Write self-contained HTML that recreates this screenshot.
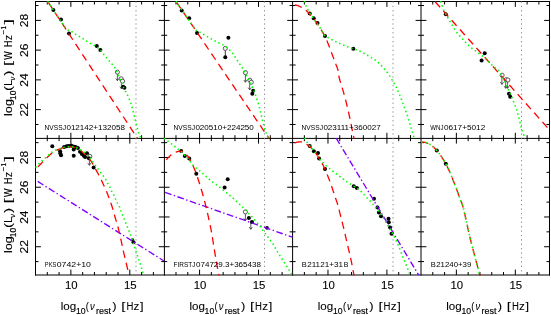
<!DOCTYPE html>
<html><head><meta charset="utf-8"><title>SED fits</title>
<style>
html,body{margin:0;padding:0;background:#fff;}
body{width:551px;height:315px;overflow:hidden;}
svg{display:block;will-change:transform;font-family:"Liberation Sans",sans-serif;}
</style></head><body>
<svg width="551" height="315" viewBox="0 0 551 315">
<rect x="0" y="0" width="551" height="315" fill="#ffffff"/>
<defs>
<clipPath id="c00"><rect x="34.9" y="0.8" width="129.9" height="138.1"/></clipPath>
<clipPath id="c01"><rect x="163.6" y="0.8" width="129.6" height="138.1"/></clipPath>
<clipPath id="c02"><rect x="292" y="0.8" width="129.6" height="138.1"/></clipPath>
<clipPath id="c03"><rect x="420.4" y="0.8" width="129.7" height="138.1"/></clipPath>
<clipPath id="c10"><rect x="34.9" y="137.5" width="129.9" height="138.2"/></clipPath>
<clipPath id="c11"><rect x="163.6" y="137.5" width="129.6" height="138.2"/></clipPath>
<clipPath id="c12"><rect x="292" y="137.5" width="129.6" height="138.2"/></clipPath>
<clipPath id="c13"><rect x="420.4" y="137.5" width="129.7" height="138.2"/></clipPath>
</defs>
<g stroke="#000" stroke-width="1" fill="none" stroke-linecap="butt">
<line x1="35.5" y1="1" x2="35.5" y2="275.5"/>
<line x1="164.4" y1="1" x2="164.4" y2="275.5"/>
<line x1="292.6" y1="1" x2="292.6" y2="275.5"/>
<line x1="421" y1="1" x2="421" y2="275.5"/>
<line x1="549.5" y1="1" x2="549.5" y2="275.5"/>
<line x1="35" y1="1.5" x2="550" y2="1.5"/>
<line x1="35" y1="138.4" x2="550" y2="138.4"/>
<line x1="35" y1="275" x2="550" y2="275"/>
<path d="M47.29 1.5 v3 M47.29 135.2 v6 M47.29 275 v-3 M59.08 1.5 v3 M59.08 135.2 v6 M59.08 275 v-3 M70.87 1.5 v5.4 M70.87 132.8 v10.8 M70.87 275 v-5.4 M82.66 1.5 v3 M82.66 135.2 v6 M82.66 275 v-3 M94.45 1.5 v3 M94.45 135.2 v6 M94.45 275 v-3 M106.24 1.5 v3 M106.24 135.2 v6 M106.24 275 v-3 M118.03 1.5 v3 M118.03 135.2 v6 M118.03 275 v-3 M129.82 1.5 v5.4 M129.82 132.8 v10.8 M129.82 275 v-5.4 M141.61 1.5 v3 M141.61 135.2 v6 M141.61 275 v-3 M153.4 1.5 v3 M153.4 135.2 v6 M153.4 275 v-3 M175.99 1.5 v3 M175.99 135.2 v6 M175.99 275 v-3 M187.78 1.5 v3 M187.78 135.2 v6 M187.78 275 v-3 M199.57 1.5 v5.4 M199.57 132.8 v10.8 M199.57 275 v-5.4 M211.36 1.5 v3 M211.36 135.2 v6 M211.36 275 v-3 M223.15 1.5 v3 M223.15 135.2 v6 M223.15 275 v-3 M234.94 1.5 v3 M234.94 135.2 v6 M234.94 275 v-3 M246.73 1.5 v3 M246.73 135.2 v6 M246.73 275 v-3 M258.52 1.5 v5.4 M258.52 132.8 v10.8 M258.52 275 v-5.4 M270.31 1.5 v3 M270.31 135.2 v6 M270.31 275 v-3 M282.1 1.5 v3 M282.1 135.2 v6 M282.1 275 v-3 M304.39 1.5 v3 M304.39 135.2 v6 M304.39 275 v-3 M316.18 1.5 v3 M316.18 135.2 v6 M316.18 275 v-3 M327.97 1.5 v5.4 M327.97 132.8 v10.8 M327.97 275 v-5.4 M339.76 1.5 v3 M339.76 135.2 v6 M339.76 275 v-3 M351.55 1.5 v3 M351.55 135.2 v6 M351.55 275 v-3 M363.34 1.5 v3 M363.34 135.2 v6 M363.34 275 v-3 M375.13 1.5 v3 M375.13 135.2 v6 M375.13 275 v-3 M386.92 1.5 v5.4 M386.92 132.8 v10.8 M386.92 275 v-5.4 M398.71 1.5 v3 M398.71 135.2 v6 M398.71 275 v-3 M410.5 1.5 v3 M410.5 135.2 v6 M410.5 275 v-3 M432.79 1.5 v3 M432.79 135.2 v6 M432.79 275 v-3 M444.58 1.5 v3 M444.58 135.2 v6 M444.58 275 v-3 M456.37 1.5 v5.4 M456.37 132.8 v10.8 M456.37 275 v-5.4 M468.16 1.5 v3 M468.16 135.2 v6 M468.16 275 v-3 M479.95 1.5 v3 M479.95 135.2 v6 M479.95 275 v-3 M491.74 1.5 v3 M491.74 135.2 v6 M491.74 275 v-3 M503.53 1.5 v3 M503.53 135.2 v6 M503.53 275 v-3 M515.32 1.5 v5.4 M515.32 132.8 v10.8 M515.32 275 v-5.4 M527.11 1.5 v3 M527.11 135.2 v6 M527.11 275 v-3 M538.9 1.5 v3 M538.9 135.2 v6 M538.9 275 v-3 M35.5 124.49 h3 M161.2 124.49 h6 M289.6 124.49 h6 M418 124.49 h6 M549.5 124.49 h-3 M35.5 109.62 h5.4 M158.8 109.62 h10.8 M287.2 109.62 h10.8 M415.6 109.62 h10.8 M549.5 109.62 h-5.4 M35.5 94.75 h3 M161.2 94.75 h6 M289.6 94.75 h6 M418 94.75 h6 M549.5 94.75 h-3 M35.5 79.88 h5.4 M158.8 79.88 h10.8 M287.2 79.88 h10.8 M415.6 79.88 h10.8 M549.5 79.88 h-5.4 M35.5 65.01 h3 M161.2 65.01 h6 M289.6 65.01 h6 M418 65.01 h6 M549.5 65.01 h-3 M35.5 50.14 h5.4 M158.8 50.14 h10.8 M287.2 50.14 h10.8 M415.6 50.14 h10.8 M549.5 50.14 h-5.4 M35.5 35.27 h3 M161.2 35.27 h6 M289.6 35.27 h6 M418 35.27 h6 M549.5 35.27 h-3 M35.5 20.4 h5.4 M158.8 20.4 h10.8 M287.2 20.4 h10.8 M415.6 20.4 h10.8 M549.5 20.4 h-5.4 M35.5 5.53 h3 M161.2 5.53 h6 M289.6 5.53 h6 M418 5.53 h6 M549.5 5.53 h-3 M35.5 261.59 h3 M161.2 261.59 h6 M289.6 261.59 h6 M418 261.59 h6 M549.5 261.59 h-3 M35.5 246.72 h5.4 M158.8 246.72 h10.8 M287.2 246.72 h10.8 M415.6 246.72 h10.8 M549.5 246.72 h-5.4 M35.5 231.85 h3 M161.2 231.85 h6 M289.6 231.85 h6 M418 231.85 h6 M549.5 231.85 h-3 M35.5 216.98 h5.4 M158.8 216.98 h10.8 M287.2 216.98 h10.8 M415.6 216.98 h10.8 M549.5 216.98 h-5.4 M35.5 202.11 h3 M161.2 202.11 h6 M289.6 202.11 h6 M418 202.11 h6 M549.5 202.11 h-3 M35.5 187.24 h5.4 M158.8 187.24 h10.8 M287.2 187.24 h10.8 M415.6 187.24 h10.8 M549.5 187.24 h-5.4 M35.5 172.37 h3 M161.2 172.37 h6 M289.6 172.37 h6 M418 172.37 h6 M549.5 172.37 h-3 M35.5 157.5 h5.4 M158.8 157.5 h10.8 M287.2 157.5 h10.8 M415.6 157.5 h10.8 M549.5 157.5 h-5.4 M35.5 142.63 h3 M161.2 142.63 h6 M289.6 142.63 h6 M418 142.63 h6 M549.5 142.63 h-3"/>
</g>
<line x1="136" y1="1.5" x2="136" y2="138.2" stroke="#8c8c8c" stroke-width="1" stroke-dasharray="1.3 3.1" stroke-dashoffset="0.15"/>
<line x1="264.5" y1="1.5" x2="264.5" y2="138.2" stroke="#8c8c8c" stroke-width="1" stroke-dasharray="1.3 3.1" stroke-dashoffset="0.15"/>
<line x1="393" y1="1.5" x2="393" y2="138.2" stroke="#8c8c8c" stroke-width="1" stroke-dasharray="1.3 3.1" stroke-dashoffset="0.15"/>
<line x1="521.5" y1="1.5" x2="521.5" y2="138.2" stroke="#8c8c8c" stroke-width="1" stroke-dasharray="1.3 3.1" stroke-dashoffset="0.15"/>
<line x1="136" y1="138.2" x2="136" y2="275" stroke="#8c8c8c" stroke-width="1" stroke-dasharray="1.3 3.1" stroke-dashoffset="0.15"/>
<line x1="264.5" y1="138.2" x2="264.5" y2="275" stroke="#8c8c8c" stroke-width="1" stroke-dasharray="1.3 3.1" stroke-dashoffset="0.15"/>
<line x1="393" y1="138.2" x2="393" y2="275" stroke="#8c8c8c" stroke-width="1" stroke-dasharray="1.3 3.1" stroke-dashoffset="0.15"/>
<line x1="521.5" y1="138.2" x2="521.5" y2="275" stroke="#8c8c8c" stroke-width="1" stroke-dasharray="1.3 3.1" stroke-dashoffset="0.15"/>
<g clip-path="url(#c00)">
<path d="M117.4 72.1 V80.7 M115.8 78.5 L117.4 80.7 L119 78.5" stroke="#333" stroke-width="0.8" fill="none"/>
<path d="M121.4 81 V88.8 M119.8 86.6 L121.4 88.8 L123 86.6" stroke="#333" stroke-width="0.8" fill="none"/>
<circle cx="117.4" cy="72.1" r="2.05" fill="#fff" stroke="#333" stroke-width="0.8"/>
<circle cx="121.2" cy="78.8" r="2.05" fill="#fff" stroke="#333" stroke-width="0.8"/>
<circle cx="122.6" cy="81.2" r="2.05" fill="#fff" stroke="#333" stroke-width="0.8"/>
<circle cx="53.4" cy="9.9" r="2" fill="#000"/>
<circle cx="61" cy="19.6" r="2" fill="#000"/>
<circle cx="69" cy="33.4" r="2" fill="#000"/>
<circle cx="96.8" cy="46" r="2" fill="#000"/>
<circle cx="100.4" cy="50" r="2" fill="#000"/>
<circle cx="123.2" cy="86.7" r="2" fill="#000"/>
<circle cx="124.4" cy="87.7" r="2" fill="#000"/>
<path d="M47.6 1.3 L137.5 138.4" fill="none" stroke="#ff0000" stroke-width="1.3" stroke-dasharray="7.4 5" stroke-dashoffset="11.03"/>
<path d="M47.6 1.3 L48.49 2.62 L49.66 4.37 L51.05 6.46 L52.62 8.82 L54.31 11.36 L56.08 14 L57.85 16.64 L59.6 19.22 L61.26 21.64 L62.78 23.82 L64.11 25.68 L65.2 27.13 L66.06 28.21 L66.77 29.01 L67.35 29.57 L67.82 29.95 L68.21 30.16 L68.53 30.27 L68.81 30.29 L69.07 30.28 L69.33 30.28 L69.63 30.31 L69.97 30.43 L70.39 30.67 L70.86 30.99 L71.33 31.32 L71.82 31.65 L72.3 31.99 L72.8 32.33 L73.3 32.68 L73.8 33.02 L74.3 33.36 L74.8 33.7 L75.3 34.04 L75.79 34.36 L76.29 34.68 L76.78 34.99 L77.27 35.3 L77.76 35.59 L78.25 35.89 L78.75 36.18 L79.24 36.47 L79.73 36.75 L80.22 37.04 L80.71 37.33 L81.2 37.62 L81.7 37.92 L82.19 38.22 L82.68 38.53 L83.17 38.84 L83.66 39.16 L84.15 39.48 L84.64 39.8 L85.14 40.12 L85.63 40.44 L86.12 40.76 L86.61 41.08 L87.1 41.39 L87.59 41.7 L88.09 42 L88.58 42.29 L89.07 42.56 L89.56 42.83 L90.05 43.1 L90.54 43.36 L91.03 43.62 L91.53 43.88 L92.02 44.15 L92.51 44.42 L93 44.7 L93.49 44.99 L93.98 45.3 L94.48 45.62 L94.98 45.93 L95.49 46.26 L95.99 46.58 L96.5 46.92 L97.01 47.26 L97.51 47.61 L98 47.97 L98.49 48.35 L98.97 48.73 L99.43 49.13 L99.88 49.55 L100.31 49.98 L100.72 50.42 L101.12 50.88 L101.5 51.35 L101.87 51.83 L102.24 52.32 L102.61 52.82 L102.98 53.33 L103.37 53.85 L103.76 54.37 L104.17 54.91 L104.6 55.44 L105.05 56 L105.53 56.57 L106.02 57.16 L106.52 57.76 L107.03 58.37 L107.55 58.99 L108.07 59.6 L108.58 60.21 L109.08 60.81 L109.57 61.4 L110.05 61.97 L110.5 62.52 L110.92 63.01 L111.31 63.42 L111.68 63.76 L112.03 64.08 L112.37 64.38 L112.71 64.7 L113.06 65.07 L113.43 65.49 L113.82 66.01 L114.24 66.65 L114.7 67.42 L115.22 68.36 L115.79 69.51 L116.43 70.86 L117.12 72.38 L117.84 74.03 L118.59 75.78 L119.35 77.57 L120.11 79.38 L120.85 81.16 L121.58 82.87 L122.26 84.48 L122.9 85.95 L123.48 87.23 L124 88.35 L124.48 89.35 L124.93 90.26 L125.35 91.08 L125.75 91.84 L126.13 92.54 L126.49 93.22 L126.84 93.88 L127.18 94.53 L127.52 95.21 L127.85 95.92 L128.19 96.67 L128.53 97.46 L128.87 98.24 L129.19 99.03 L129.5 99.82 L129.81 100.6 L130.11 101.39 L130.4 102.18 L130.68 102.96 L130.96 103.75 L131.23 104.54 L131.48 105.32 L131.73 106.11 L131.97 106.9 L132.19 107.68 L132.41 108.47 L132.61 109.25 L132.8 110.04 L132.99 110.83 L133.17 111.61 L133.35 112.4 L133.53 113.19 L133.71 113.97 L133.9 114.76 L134.09 115.55 L134.29 116.34 L134.49 117.13 L134.68 117.93 L134.88 118.74 L135.08 119.54 L135.27 120.34 L135.47 121.14 L135.67 121.93 L135.86 122.71 L136.06 123.48 L136.26 124.24 L136.45 124.98 L136.65 125.72 L136.85 126.46 L137.05 127.2 L137.25 127.93 L137.45 128.65 L137.65 129.36 L137.84 130.06 L138.04 130.74 L138.24 131.4 L138.43 132.04 L138.62 132.66 L138.81 133.24 L139 133.81 L139.2 134.37 L139.41 134.92 L139.62 135.46 L139.82 135.98 L140.02 136.47 L140.21 136.93 L140.39 137.37 L140.56 137.76 L140.71 138.11 L140.83 138.41 L140.93 138.67" fill="none" stroke="#00ff00" stroke-width="1.6" stroke-dasharray="1.5 2.85" stroke-dashoffset="0"/>
</g>
<text transform="translate(44.55 129.9) scale(0.857 1)" font-size="7.8" fill="#000" stroke="#000" stroke-width="0">NVSSJ</text>
<text transform="translate(66.38 129.9) scale(1.038 1)" font-size="7.8" fill="#000" stroke="#000" stroke-width="0">012142+132058</text>
<g clip-path="url(#c01)">
<path d="M245.4 72.6 V82.2 M243.8 80 L245.4 82.2 L247 80" stroke="#333" stroke-width="0.8" fill="none"/>
<path d="M249.7 81.5 V89.8 M248.1 87.6 L249.7 89.8 L251.3 87.6" stroke="#333" stroke-width="0.8" fill="none"/>
<path d="M225.3 48.4 V57.3" stroke="#222" stroke-width="0.9" fill="none"/>
<circle cx="225.3" cy="48.4" r="2.05" fill="#fff" stroke="#333" stroke-width="0.8"/>
<circle cx="245.4" cy="72.6" r="2.05" fill="#fff" stroke="#333" stroke-width="0.8"/>
<circle cx="249.8" cy="80.2" r="2.05" fill="#fff" stroke="#333" stroke-width="0.8"/>
<circle cx="251.3" cy="82.2" r="2.05" fill="#fff" stroke="#333" stroke-width="0.8"/>
<circle cx="181.7" cy="10.6" r="2" fill="#000"/>
<circle cx="189.2" cy="18.2" r="2" fill="#000"/>
<circle cx="197" cy="33" r="2" fill="#000"/>
<circle cx="228.4" cy="37.8" r="2" fill="#000"/>
<circle cx="225.3" cy="57.3" r="2" fill="#000"/>
<circle cx="253.2" cy="90.8" r="2" fill="#000"/>
<circle cx="252.3" cy="93.8" r="2" fill="#000"/>
<path d="M175.9 1.3 L269 138.4" fill="none" stroke="#ff0000" stroke-width="1.3" stroke-dasharray="7.4 5" stroke-dashoffset="11.14"/>
<path d="M175.9 1.3 L176.85 2.68 L178.1 4.51 L179.6 6.7 L181.29 9.17 L183.1 11.83 L184.99 14.58 L186.9 17.35 L188.76 20.05 L190.53 22.58 L192.14 24.86 L193.54 26.8 L194.67 28.31 L195.55 29.43 L196.26 30.26 L196.81 30.85 L197.24 31.23 L197.57 31.45 L197.84 31.55 L198.05 31.57 L198.25 31.54 L198.46 31.52 L198.7 31.53 L199 31.63 L199.39 31.85 L199.84 32.15 L200.3 32.44 L200.78 32.74 L201.27 33.03 L201.76 33.33 L202.27 33.62 L202.77 33.92 L203.28 34.21 L203.79 34.51 L204.29 34.8 L204.79 35.1 L205.29 35.39 L205.78 35.69 L206.27 35.99 L206.76 36.29 L207.25 36.59 L207.75 36.89 L208.24 37.19 L208.73 37.49 L209.22 37.78 L209.71 38.08 L210.2 38.37 L210.7 38.65 L211.19 38.93 L211.68 39.2 L212.17 39.47 L212.66 39.73 L213.15 40 L213.64 40.25 L214.14 40.51 L214.63 40.76 L215.12 41.01 L215.61 41.26 L216.1 41.5 L216.59 41.75 L217.09 42 L217.58 42.24 L218.08 42.47 L218.59 42.7 L219.1 42.93 L219.6 43.16 L220.11 43.38 L220.61 43.61 L221.1 43.84 L221.59 44.08 L222.07 44.32 L222.53 44.57 L222.98 44.83 L223.42 45.09 L223.84 45.36 L224.25 45.63 L224.64 45.91 L225.03 46.19 L225.42 46.48 L225.8 46.77 L226.17 47.07 L226.55 47.38 L226.93 47.7 L227.31 48.03 L227.7 48.37 L228.1 48.71 L228.49 49.06 L228.88 49.41 L229.28 49.76 L229.67 50.13 L230.06 50.5 L230.45 50.89 L230.85 51.29 L231.24 51.71 L231.63 52.15 L232.03 52.61 L232.42 53.09 L232.81 53.59 L233.21 54.13 L233.6 54.69 L233.99 55.27 L234.39 55.87 L234.78 56.48 L235.17 57.09 L235.57 57.72 L235.96 58.34 L236.35 58.96 L236.75 59.57 L237.14 60.16 L237.54 60.76 L237.94 61.36 L238.35 61.96 L238.76 62.57 L239.17 63.18 L239.57 63.78 L239.98 64.38 L240.37 64.97 L240.76 65.56 L241.14 66.13 L241.51 66.7 L241.86 67.24 L242.19 67.77 L242.52 68.27 L242.83 68.76 L243.13 69.23 L243.42 69.7 L243.7 70.16 L243.98 70.62 L244.26 71.09 L244.54 71.56 L244.82 72.05 L245.11 72.55 L245.4 73.08 L245.69 73.62 L245.99 74.19 L246.28 74.76 L246.58 75.35 L246.87 75.94 L247.17 76.54 L247.46 77.14 L247.76 77.75 L248.05 78.36 L248.35 78.96 L248.64 79.56 L248.94 80.16 L249.24 80.75 L249.54 81.35 L249.85 81.95 L250.16 82.56 L250.47 83.16 L250.78 83.77 L251.08 84.37 L251.38 84.96 L251.67 85.55 L251.95 86.12 L252.22 86.69 L252.48 87.23 L252.71 87.76 L252.93 88.26 L253.14 88.74 L253.33 89.2 L253.52 89.66 L253.7 90.11 L253.88 90.57 L254.06 91.04 L254.24 91.52 L254.43 92.03 L254.63 92.56 L254.83 93.13 L255.06 93.73 L255.28 94.36 L255.52 95 L255.75 95.67 L255.99 96.35 L256.24 97.04 L256.48 97.75 L256.72 98.46 L256.96 99.19 L257.2 99.92 L257.44 100.65 L257.67 101.39 L257.89 102.14 L258.12 102.9 L258.34 103.68 L258.57 104.47 L258.79 105.26 L259.01 106.06 L259.23 106.87 L259.44 107.67 L259.65 108.47 L259.86 109.27 L260.06 110.05 L260.26 110.83 L260.46 111.6 L260.64 112.37 L260.83 113.14 L261.01 113.91 L261.19 114.68 L261.36 115.44 L261.53 116.19 L261.7 116.94 L261.87 117.67 L262.04 118.39 L262.21 119.1 L262.38 119.79 L262.56 120.48 L262.74 121.16 L262.92 121.83 L263.09 122.5 L263.27 123.16 L263.45 123.8 L263.62 124.43 L263.79 125.03 L263.96 125.62 L264.11 126.17 L264.26 126.7 L264.4 127.2 L264.53 127.66 L264.64 128.07 L264.75 128.46 L264.85 128.81 L264.94 129.14 L265.03 129.45 L265.11 129.75 L265.2 130.05 L265.29 130.35 L265.39 130.65 L265.49 130.97 L265.6 131.3 L265.72 131.65 L265.85 132.01 L265.98 132.37 L266.12 132.73 L266.26 133.09 L266.4 133.46 L266.54 133.82 L266.68 134.17 L266.82 134.52 L266.95 134.86 L267.08 135.18 L267.2 135.5 L267.32 135.81 L267.44 136.13 L267.56 136.45 L267.67 136.76 L267.79 137.07 L267.9 137.36 L268.01 137.64 L268.1 137.91 L268.19 138.15 L268.27 138.36 L268.34 138.55 L268.4 138.7" fill="none" stroke="#00ff00" stroke-width="1.6" stroke-dasharray="1.5 2.85" stroke-dashoffset="0"/>
</g>
<text transform="translate(173.55 129.9) scale(0.857 1)" font-size="7.8" fill="#000" stroke="#000" stroke-width="0">NVSSJ</text>
<text transform="translate(195.38 129.9) scale(1.034 1)" font-size="7.8" fill="#000" stroke="#000" stroke-width="0">020510+224250</text>
<g clip-path="url(#c02)">
<circle cx="309.7" cy="13.5" r="2" fill="#000"/>
<circle cx="313.7" cy="18.2" r="2" fill="#000"/>
<circle cx="317.5" cy="22.9" r="2" fill="#000"/>
<circle cx="325" cy="36.1" r="2" fill="#000"/>
<circle cx="353.3" cy="48.8" r="2" fill="#000"/>
<path d="M292.6 5 L292.72 5 L292.88 4.99 L293.06 4.98 L293.26 4.97 L293.48 4.96 L293.71 4.95 L293.96 4.94 L294.21 4.94 L294.46 4.94 L294.71 4.95 L294.96 4.97 L295.2 5 L295.44 5.04 L295.68 5.08 L295.92 5.13 L296.17 5.19 L296.42 5.25 L296.67 5.31 L296.93 5.38 L297.19 5.46 L297.44 5.54 L297.7 5.62 L297.95 5.71 L298.2 5.8 L298.45 5.89 L298.68 5.98 L298.92 6.07 L299.15 6.17 L299.38 6.26 L299.61 6.37 L299.85 6.48 L300.1 6.6 L300.35 6.73 L300.62 6.87 L300.9 7.03 L301.2 7.2 L301.51 7.38 L301.84 7.57 L302.18 7.76 L302.53 7.97 L302.89 8.18 L303.26 8.41 L303.63 8.65 L304.02 8.9 L304.41 9.18 L304.8 9.46 L305.2 9.77 L305.6 10.1 L306.01 10.45 L306.43 10.83 L306.87 11.23 L307.31 11.65 L307.76 12.08 L308.22 12.53 L308.67 12.99 L309.13 13.45 L309.57 13.93 L310.02 14.4 L310.45 14.87 L310.87 15.34 L311.29 15.8 L311.69 16.27 L312.09 16.74 L312.49 17.21 L312.88 17.69 L313.27 18.17 L313.66 18.66 L314.04 19.16 L314.43 19.66 L314.81 20.18 L315.2 20.7 L315.59 21.23 L315.99 21.78 L316.38 22.33 L316.77 22.89 L317.17 23.46 L317.56 24.04 L317.95 24.63 L318.35 25.22 L318.74 25.82 L319.13 26.43 L319.53 27.05 L319.92 27.68 L320.31 28.31 L320.71 28.96 L321.11 29.62 L321.52 30.29 L321.93 30.98 L322.34 31.67 L322.75 32.37 L323.15 33.07 L323.55 33.77 L323.93 34.48 L324.31 35.18 L324.68 35.88 L325.03 36.57 L325.37 37.25 L325.69 37.93 L326 38.61 L326.3 39.28 L326.59 39.95 L326.87 40.62 L327.16 41.3 L327.43 41.99 L327.71 42.68 L327.99 43.38 L328.28 44.1 L328.57 44.83 L328.86 45.57 L329.16 46.33 L329.45 47.1 L329.75 47.89 L330.04 48.68 L330.34 49.47 L330.63 50.27 L330.93 51.08 L331.22 51.88 L331.52 52.68 L331.81 53.47 L332.11 54.26 L332.41 55.06 L332.71 55.87 L333.02 56.69 L333.33 57.52 L333.64 58.34 L333.95 59.16 L334.26 59.97 L334.56 60.77 L334.85 61.54 L335.13 62.29 L335.39 63.02 L335.65 63.7 L335.89 64.35 L336.12 64.96 L336.35 65.53 L336.57 66.08 L336.77 66.61 L336.98 67.13 L337.17 67.64 L337.35 68.15 L337.53 68.66 L337.7 69.19 L337.86 69.74 L338.01 70.31 L338.14 70.89 L338.24 71.46 L338.33 72.02 L338.4 72.58 L338.46 73.15 L338.52 73.73 L338.59 74.33 L338.66 74.95 L338.75 75.6 L338.87 76.29 L339.01 77.02 L339.19 77.8 L339.4 78.63 L339.64 79.5 L339.91 80.42 L340.19 81.37 L340.49 82.35 L340.81 83.35 L341.13 84.38 L341.46 85.41 L341.79 86.46 L342.11 87.51 L342.42 88.56 L342.73 89.59 L343.02 90.63 L343.32 91.66 L343.61 92.7 L343.91 93.74 L344.2 94.8 L344.5 95.86 L344.79 96.94 L345.09 98.03 L345.38 99.13 L345.68 100.26 L345.97 101.4 L346.26 102.57 L346.56 103.78 L346.87 105.03 L347.18 106.32 L347.49 107.64 L347.8 108.97 L348.11 110.31 L348.41 111.65 L348.71 112.97 L349 114.27 L349.28 115.53 L349.55 116.74 L349.8 117.91 L350.04 119.02 L350.27 120.11 L350.49 121.17 L350.7 122.2 L350.89 123.22 L351.09 124.2 L351.27 125.17 L351.46 126.11 L351.63 127.04 L351.81 127.94 L351.99 128.83 L352.16 129.7 L352.34 130.58 L352.53 131.46 L352.71 132.35 L352.9 133.23 L353.08 134.09 L353.25 134.92 L353.42 135.71 L353.58 136.45 L353.72 137.12 L353.85 137.73 L353.96 138.24 L354.05 138.67" fill="none" stroke="#ff0000" stroke-width="1.3" stroke-dasharray="7.4 5" stroke-dashoffset="10.23"/>
<path d="M304.27 1.18 L304.38 1.46 L304.52 1.82 L304.68 2.24 L304.85 2.71 L305.05 3.22 L305.26 3.76 L305.48 4.32 L305.7 4.89 L305.93 5.47 L306.17 6.03 L306.4 6.57 L306.63 7.08 L306.85 7.56 L307.07 8.03 L307.28 8.5 L307.49 8.96 L307.71 9.42 L307.94 9.88 L308.18 10.35 L308.44 10.84 L308.71 11.34 L309.01 11.86 L309.34 12.4 L309.7 12.98 L310.09 13.59 L310.53 14.23 L311 14.9 L311.5 15.6 L312.01 16.31 L312.54 17.03 L313.08 17.76 L313.61 18.48 L314.14 19.2 L314.65 19.9 L315.13 20.58 L315.59 21.23 L316.03 21.87 L316.46 22.49 L316.88 23.1 L317.3 23.71 L317.7 24.3 L318.1 24.89 L318.49 25.47 L318.87 26.05 L319.24 26.62 L319.61 27.19 L319.96 27.75 L320.31 28.31 L320.65 28.88 L320.97 29.46 L321.27 30.04 L321.56 30.62 L321.85 31.2 L322.13 31.76 L322.41 32.32 L322.68 32.85 L322.97 33.36 L323.25 33.83 L323.55 34.28 L323.85 34.68 L324.16 35.04 L324.48 35.36 L324.8 35.65 L325.12 35.9 L325.44 36.13 L325.77 36.35 L326.1 36.54 L326.44 36.73 L326.77 36.92 L327.11 37.1 L327.45 37.29 L327.8 37.5 L328.15 37.71 L328.51 37.91 L328.87 38.11 L329.23 38.31 L329.6 38.5 L329.97 38.68 L330.34 38.87 L330.71 39.05 L331.08 39.24 L331.46 39.42 L331.83 39.61 L332.2 39.8 L332.57 39.99 L332.95 40.19 L333.33 40.39 L333.71 40.59 L334.1 40.78 L334.48 40.98 L334.86 41.18 L335.24 41.37 L335.61 41.56 L335.98 41.75 L336.35 41.93 L336.7 42.1 L337.05 42.27 L337.38 42.43 L337.71 42.59 L338.04 42.74 L338.36 42.89 L338.68 43.04 L338.99 43.18 L339.31 43.33 L339.62 43.47 L339.95 43.61 L340.27 43.76 L340.6 43.9 L340.93 44.05 L341.27 44.19 L341.61 44.33 L341.95 44.48 L342.29 44.62 L342.64 44.76 L342.98 44.9 L343.33 45.04 L343.67 45.18 L344.01 45.32 L344.36 45.46 L344.7 45.6 L345.04 45.74 L345.38 45.87 L345.72 46.01 L346.06 46.14 L346.39 46.27 L346.73 46.41 L347.07 46.54 L347.41 46.67 L347.75 46.8 L348.1 46.93 L348.45 47.07 L348.8 47.2 L349.16 47.33 L349.52 47.47 L349.9 47.61 L350.27 47.75 L350.65 47.89 L351.02 48.02 L351.4 48.16 L351.77 48.3 L352.14 48.43 L352.5 48.56 L352.86 48.68 L353.2 48.8 L353.53 48.91 L353.85 49.02 L354.17 49.12 L354.47 49.21 L354.78 49.31 L355.07 49.4 L355.37 49.49 L355.67 49.59 L355.97 49.68 L356.27 49.78 L356.58 49.89 L356.9 50 L357.22 50.12 L357.55 50.24 L357.88 50.36 L358.21 50.48 L358.55 50.61 L358.88 50.74 L359.22 50.87 L359.56 51.01 L359.89 51.15 L360.23 51.29 L360.57 51.44 L360.9 51.6 L361.23 51.76 L361.57 51.93 L361.9 52.11 L362.24 52.29 L362.58 52.47 L362.91 52.66 L363.25 52.85 L363.58 53.04 L363.91 53.24 L364.24 53.43 L364.57 53.61 L364.9 53.8 L365.22 53.98 L365.55 54.17 L365.87 54.35 L366.19 54.53 L366.5 54.72 L366.82 54.9 L367.13 55.08 L367.45 55.27 L367.76 55.45 L368.07 55.63 L368.39 55.82 L368.7 56 L369.01 56.18 L369.32 56.36 L369.63 56.55 L369.94 56.73 L370.25 56.91 L370.56 57.09 L370.87 57.27 L371.18 57.45 L371.48 57.64 L371.79 57.82 L372.1 58.01 L372.4 58.2 L372.71 58.39 L373.01 58.58 L373.32 58.78 L373.63 58.97 L373.93 59.17 L374.24 59.37 L374.54 59.57 L374.84 59.77 L375.14 59.97 L375.43 60.18 L375.72 60.39 L376 60.6 L376.28 60.81 L376.54 61.02 L376.81 61.24 L377.06 61.45 L377.32 61.67 L377.57 61.89 L377.82 62.11 L378.07 62.34 L378.32 62.57 L378.58 62.81 L378.84 63.05 L379.1 63.3 L379.37 63.56 L379.64 63.83 L379.92 64.1 L380.2 64.39 L380.48 64.67 L380.76 64.96 L381.04 65.25 L381.32 65.55 L381.6 65.84 L381.87 66.13 L382.14 66.42 L382.4 66.7 L382.66 66.98 L382.91 67.26 L383.16 67.53 L383.4 67.81 L383.65 68.08 L383.89 68.36 L384.13 68.63 L384.36 68.9 L384.6 69.18 L384.83 69.45 L385.07 69.73 L385.3 70 L385.53 70.27 L385.77 70.55 L386 70.82 L386.23 71.1 L386.46 71.37 L386.69 71.64 L386.92 71.92 L387.14 72.19 L387.36 72.47 L387.58 72.74 L387.79 73.02 L388 73.3 L388.2 73.58 L388.4 73.86 L388.59 74.14 L388.77 74.41 L388.95 74.69 L389.13 74.97 L389.31 75.26 L389.49 75.54 L389.66 75.83 L389.84 76.11 L390.02 76.41 L390.2 76.7 L390.38 77 L390.57 77.3 L390.75 77.6 L390.93 77.9 L391.11 78.21 L391.29 78.51 L391.48 78.82 L391.66 79.13 L391.84 79.45 L392.03 79.76 L392.21 80.08 L392.4 80.4 L392.59 80.72 L392.78 81.05 L392.97 81.38 L393.16 81.71 L393.36 82.05 L393.55 82.38 L393.74 82.72 L393.94 83.06 L394.13 83.39 L394.32 83.73 L394.51 84.07 L394.7 84.4 L394.89 84.73 L395.08 85.06 L395.27 85.39 L395.46 85.72 L395.64 86.05 L395.83 86.38 L396.02 86.71 L396.2 87.04 L396.38 87.38 L396.56 87.72 L396.73 88.06 L396.9 88.4 L397.06 88.75 L397.22 89.1 L397.38 89.46 L397.53 89.82 L397.68 90.19 L397.82 90.55 L397.97 90.91 L398.11 91.28 L398.26 91.64 L398.4 92 L398.55 92.35 L398.7 92.7 L398.85 93.04 L399 93.39 L399.16 93.72 L399.31 94.06 L399.47 94.39 L399.62 94.73 L399.78 95.06 L399.93 95.39 L400.08 95.71 L400.22 96.04 L400.36 96.37 L400.5 96.7 L400.63 97.03 L400.76 97.36 L400.88 97.68 L401 98.01 L401.11 98.34 L401.22 98.66 L401.34 98.99 L401.45 99.31 L401.56 99.63 L401.67 99.96 L401.78 100.28 L401.9 100.6 L402.02 100.92 L402.13 101.23 L402.25 101.55 L402.36 101.86 L402.47 102.17 L402.59 102.48 L402.7 102.79 L402.82 103.11 L402.94 103.42 L403.06 103.74 L403.18 104.07 L403.3 104.4 L403.43 104.74 L403.56 105.08 L403.69 105.42 L403.82 105.77 L403.96 106.13 L404.09 106.48 L404.23 106.84 L404.37 107.19 L404.5 107.55 L404.64 107.9 L404.77 108.25 L404.9 108.6 L405.03 108.95 L405.16 109.29 L405.28 109.63 L405.41 109.97 L405.54 110.32 L405.66 110.66 L405.79 111 L405.91 111.34 L406.03 111.68 L406.16 112.02 L406.28 112.36 L406.4 112.7 L406.52 113.04 L406.64 113.38 L406.76 113.72 L406.88 114.06 L407 114.4 L407.12 114.74 L407.24 115.08 L407.35 115.43 L407.47 115.77 L407.58 116.11 L407.69 116.45 L407.8 116.8 L407.91 117.15 L408.01 117.5 L408.11 117.85 L408.21 118.2 L408.31 118.55 L408.41 118.9 L408.5 119.25 L408.6 119.6 L408.7 119.95 L408.8 120.3 L408.9 120.65 L409 121 L409.1 121.34 L409.21 121.69 L409.32 122.03 L409.43 122.36 L409.53 122.7 L409.64 123.04 L409.75 123.38 L409.86 123.71 L409.97 124.06 L410.08 124.4 L410.19 124.75 L410.3 125.1 L410.41 125.46 L410.52 125.82 L410.62 126.18 L410.73 126.55 L410.84 126.92 L410.95 127.29 L411.06 127.67 L411.17 128.04 L411.28 128.41 L411.38 128.77 L411.49 129.14 L411.6 129.5 L411.71 129.85 L411.82 130.2 L411.92 130.55 L412.03 130.89 L412.14 131.23 L412.24 131.57 L412.35 131.91 L412.46 132.26 L412.57 132.61 L412.68 132.96 L412.79 133.33 L412.9 133.7 L413.02 134.1 L413.14 134.53 L413.28 134.99 L413.41 135.46 L413.55 135.94 L413.68 136.41 L413.81 136.87 L413.93 137.3 L414.05 137.7 L414.15 138.06 L414.23 138.36 L414.3 138.6" fill="none" stroke="#00ff00" stroke-width="1.6" stroke-dasharray="1.5 2.85" stroke-dashoffset="0"/>
</g>
<text transform="translate(301.55 129.9) scale(0.857 1)" font-size="7.8" fill="#000" stroke="#000" stroke-width="0">NVSSJ</text>
<text transform="translate(323.39 129.9) scale(1.034 1)" font-size="7.8" fill="#000" stroke="#000" stroke-width="0">023111+360027</text>
<g clip-path="url(#c03)">
<path d="M501.9 75.2 V84.4 M500.3 82.2 L501.9 84.4 L503.5 82.2" stroke="#333" stroke-width="0.8" fill="none"/>
<path d="M505.7 80 V88.3 M504.1 86.1 L505.7 88.3 L507.3 86.1" stroke="#333" stroke-width="0.8" fill="none"/>
<path d="M507.6 80 V88.3 M506 86.1 L507.6 88.3 L509.2 86.1" stroke="#333" stroke-width="0.8" fill="none"/>
<circle cx="502.1" cy="75.2" r="2.05" fill="#fff" stroke="#333" stroke-width="0.8"/>
<circle cx="506.1" cy="79.7" r="2.05" fill="#fff" stroke="#333" stroke-width="0.8"/>
<circle cx="507.9" cy="80" r="2.05" fill="#fff" stroke="#333" stroke-width="0.8"/>
<circle cx="445.8" cy="14.2" r="2" fill="#000"/>
<circle cx="484.7" cy="53.3" r="2" fill="#000"/>
<circle cx="481.6" cy="60.4" r="2" fill="#000"/>
<circle cx="509" cy="93.8" r="2" fill="#000"/>
<circle cx="510.2" cy="96.7" r="2" fill="#000"/>
<path d="M434.7 1.3 L549.5 129.9" fill="none" stroke="#ff0000" stroke-width="1.3" stroke-dasharray="7.4 5" stroke-dashoffset="11.75"/>
<path d="M440.58 1.18 L440.72 1.59 L440.9 2.12 L441.1 2.75 L441.33 3.45 L441.59 4.21 L441.85 5.01 L442.12 5.83 L442.4 6.64 L442.67 7.43 L442.94 8.17 L443.19 8.85 L443.41 9.44 L443.62 9.94 L443.81 10.39 L443.98 10.78 L444.15 11.14 L444.31 11.48 L444.48 11.8 L444.65 12.12 L444.83 12.45 L445.03 12.81 L445.25 13.21 L445.5 13.65 L445.77 14.16 L446.08 14.72 L446.41 15.31 L446.76 15.94 L447.13 16.6 L447.51 17.29 L447.91 17.99 L448.32 18.71 L448.74 19.44 L449.17 20.18 L449.61 20.93 L450.05 21.67 L450.49 22.41 L450.94 23.16 L451.39 23.93 L451.86 24.72 L452.33 25.52 L452.81 26.32 L453.29 27.13 L453.79 27.94 L454.29 28.75 L454.81 29.55 L455.33 30.33 L455.85 31.1 L456.39 31.85 L456.94 32.58 L457.5 33.31 L458.08 34.03 L458.66 34.73 L459.26 35.44 L459.86 36.13 L460.46 36.81 L461.07 37.49 L461.67 38.16 L462.27 38.81 L462.87 39.47 L463.47 40.11 L464.06 40.75 L464.65 41.38 L465.24 42.01 L465.83 42.63 L466.42 43.24 L467.01 43.84 L467.6 44.43 L468.19 45.01 L468.78 45.58 L469.37 46.13 L469.96 46.67 L470.55 47.19 L471.14 47.68 L471.73 48.16 L472.32 48.61 L472.91 49.05 L473.5 49.47 L474.09 49.89 L474.68 50.29 L475.26 50.7 L475.85 51.11 L476.44 51.52 L477.03 51.94 L477.62 52.38 L478.21 52.82 L478.8 53.25 L479.39 53.68 L479.98 54.11 L480.57 54.54 L481.16 54.97 L481.75 55.41 L482.34 55.86 L482.93 56.33 L483.52 56.8 L484.11 57.29 L484.7 57.8 L485.29 58.34 L485.88 58.9 L486.47 59.49 L487.06 60.08 L487.65 60.7 L488.24 61.31 L488.83 61.93 L489.42 62.55 L490.01 63.16 L490.6 63.75 L491.19 64.33 L491.78 64.88 L492.39 65.42 L493.01 65.96 L493.66 66.5 L494.31 67.03 L494.97 67.55 L495.61 68.06 L496.24 68.55 L496.85 69.04 L497.42 69.5 L497.95 69.95 L498.43 70.38 L498.86 70.78 L499.21 71.14 L499.5 71.43 L499.72 71.68 L499.91 71.9 L500.06 72.1 L500.19 72.3 L500.31 72.51 L500.43 72.75 L500.57 73.03 L500.74 73.36 L500.95 73.77 L501.22 74.26 L501.53 74.84 L501.88 75.5 L502.26 76.23 L502.66 77.01 L503.08 77.83 L503.5 78.68 L503.93 79.54 L504.36 80.42 L504.78 81.28 L505.19 82.12 L505.58 82.93 L505.94 83.7 L506.27 84.42 L506.59 85.14 L506.9 85.84 L507.2 86.54 L507.49 87.22 L507.78 87.9 L508.06 88.57 L508.34 89.24 L508.62 89.92 L508.9 90.59 L509.18 91.27 L509.48 91.95 L509.77 92.64 L510.07 93.32 L510.36 93.99 L510.66 94.66 L510.95 95.33 L511.25 96.01 L511.54 96.69 L511.83 97.37 L512.13 98.06 L512.42 98.77 L512.72 99.48 L513.01 100.21 L513.31 100.96 L513.62 101.73 L513.93 102.51 L514.24 103.31 L514.55 104.12 L514.86 104.93 L515.16 105.74 L515.46 106.55 L515.75 107.34 L516.03 108.13 L516.3 108.9 L516.55 109.65 L516.79 110.37 L517.02 111.08 L517.23 111.77 L517.43 112.44 L517.62 113.11 L517.81 113.78 L517.99 114.44 L518.17 115.11 L518.35 115.79 L518.53 116.47 L518.72 117.18 L518.91 117.91 L519.11 118.66 L519.31 119.44 L519.5 120.24 L519.7 121.05 L519.9 121.87 L520.09 122.7 L520.29 123.52 L520.49 124.33 L520.68 125.12 L520.88 125.89 L521.08 126.64 L521.27 127.34 L521.47 128.02 L521.68 128.69 L521.88 129.34 L522.09 129.98 L522.3 130.6 L522.51 131.21 L522.72 131.79 L522.92 132.36 L523.11 132.91 L523.29 133.43 L523.47 133.94 L523.63 134.42 L523.79 134.89 L523.94 135.34 L524.09 135.78 L524.23 136.2 L524.36 136.61 L524.49 136.99 L524.61 137.34 L524.72 137.67 L524.81 137.97 L524.9 138.24 L524.98 138.47 L525.05 138.67" fill="none" stroke="#00ff00" stroke-width="1.6" stroke-dasharray="1.5 2.85" stroke-dashoffset="0"/>
</g>
<text transform="translate(430.37 129.9) scale(0.780 1)" font-size="7.8" fill="#000" stroke="#000" stroke-width="0">WNJ</text>
<text transform="translate(443.88 129.9) scale(1.055 1)" font-size="7.8" fill="#000" stroke="#000" stroke-width="0">0617+5012</text>
<g clip-path="url(#c10)">
<path d="M89.4 156.4 V165.3 M87.8 163.1 L89.4 165.3 L91 163.1" stroke="#333" stroke-width="0.8" fill="none"/>
<circle cx="89.8" cy="156.4" r="2.05" fill="#fff" stroke="#333" stroke-width="0.8"/>
<circle cx="52.3" cy="146.3" r="2" fill="#000"/>
<circle cx="60.1" cy="151.3" r="2" fill="#000"/>
<circle cx="60.3" cy="153.2" r="2" fill="#000"/>
<circle cx="61" cy="155.2" r="2" fill="#000"/>
<circle cx="64.1" cy="147.1" r="2" fill="#000"/>
<circle cx="66.7" cy="146.3" r="2" fill="#000"/>
<circle cx="68.6" cy="145.9" r="2" fill="#000"/>
<circle cx="71.1" cy="145.6" r="2" fill="#000"/>
<circle cx="73.3" cy="146.6" r="2" fill="#000"/>
<circle cx="75.6" cy="147.1" r="2" fill="#000"/>
<circle cx="77.9" cy="147.9" r="2" fill="#000"/>
<circle cx="73.7" cy="149.4" r="2" fill="#000"/>
<circle cx="73.7" cy="155.8" r="2" fill="#000"/>
<circle cx="80" cy="151.7" r="2" fill="#000"/>
<circle cx="81.9" cy="153.9" r="2" fill="#000"/>
<circle cx="83.8" cy="155.8" r="2" fill="#000"/>
<circle cx="85.1" cy="157" r="2" fill="#000"/>
<circle cx="87" cy="153.2" r="2" fill="#000"/>
<circle cx="88.9" cy="158.3" r="2" fill="#000"/>
<circle cx="93.6" cy="167.5" r="2" fill="#000"/>
<circle cx="133.5" cy="242.2" r="2" fill="#000"/>
<circle cx="132.6" cy="239.6" r="1.4" fill="#000"/>
<path d="M35.5 180 L164 261" fill="none" stroke="#8000ff" stroke-width="1.35" stroke-dasharray="6.7 2.5 1.4 2.5" stroke-dashoffset="10.46"/>
<path d="M35.5 169.5 L35.71 169.27 L35.97 168.99 L36.27 168.67 L36.6 168.31 L36.96 167.91 L37.35 167.49 L37.77 167.04 L38.2 166.58 L38.64 166.1 L39.09 165.63 L39.55 165.15 L40 164.68 L40.46 164.2 L40.95 163.7 L41.46 163.18 L41.98 162.65 L42.52 162.11 L43.06 161.56 L43.61 161.01 L44.17 160.45 L44.72 159.91 L45.27 159.37 L45.82 158.84 L46.35 158.33 L46.88 157.82 L47.41 157.31 L47.94 156.8 L48.47 156.29 L49 155.78 L49.53 155.29 L50.06 154.8 L50.59 154.32 L51.12 153.86 L51.65 153.42 L52.17 153 L52.7 152.61 L53.23 152.24 L53.76 151.89 L54.29 151.56 L54.82 151.25 L55.35 150.95 L55.88 150.66 L56.41 150.39 L56.94 150.13 L57.47 149.89 L58 149.64 L58.53 149.41 L59.06 149.18 L59.59 148.96 L60.11 148.74 L60.64 148.53 L61.17 148.33 L61.7 148.14 L62.23 147.96 L62.76 147.8 L63.29 147.64 L63.82 147.5 L64.35 147.37 L64.88 147.25 L65.41 147.15 L65.94 147.06 L66.47 146.98 L67 146.91 L67.53 146.85 L68.06 146.81 L68.58 146.77 L69.11 146.76 L69.64 146.75 L70.17 146.76 L70.7 146.79 L71.23 146.83 L71.76 146.89 L72.29 146.97 L72.82 147.05 L73.35 147.14 L73.88 147.25 L74.41 147.37 L74.94 147.51 L75.47 147.67 L76 147.85 L76.52 148.05 L77.05 148.27 L77.58 148.52 L78.11 148.8 L78.64 149.1 L79.17 149.44 L79.7 149.8 L80.23 150.19 L80.76 150.59 L81.29 151.02 L81.82 151.47 L82.35 151.93 L82.88 152.4 L83.41 152.89 L83.94 153.38 L84.46 153.88 L85 154.39 L85.54 154.91 L86.08 155.45 L86.63 156 L87.18 156.56 L87.72 157.14 L88.26 157.72 L88.79 158.33 L89.32 158.94 L89.83 159.57 L90.33 160.21 L90.82 160.87 L91.29 161.55 L91.76 162.28 L92.22 163.03 L92.68 163.81 L93.12 164.6 L93.56 165.39 L93.98 166.18 L94.39 166.96 L94.79 167.72 L95.18 168.44 L95.55 169.12 L95.9 169.76 L96.23 170.35 L96.54 170.89 L96.83 171.39 L97.1 171.87 L97.36 172.33 L97.61 172.77 L97.85 173.2 L98.09 173.63 L98.33 174.07 L98.57 174.51 L98.82 174.98 L99.07 175.48 L99.33 175.98 L99.58 176.47 L99.83 176.96 L100.07 177.44 L100.32 177.93 L100.56 178.44 L100.81 178.96 L101.07 179.5 L101.34 180.07 L101.62 180.67 L101.92 181.32 L102.24 182.01 L102.58 182.75 L102.95 183.55 L103.34 184.4 L103.74 185.29 L104.16 186.2 L104.58 187.13 L105 188.08 L105.42 189.02 L105.83 189.96 L106.22 190.88 L106.6 191.77 L106.96 192.62 L107.3 193.46 L107.63 194.29 L107.96 195.12 L108.27 195.94 L108.58 196.76 L108.88 197.56 L109.17 198.36 L109.45 199.13 L109.72 199.9 L109.99 200.64 L110.25 201.36 L110.5 202.06 L110.74 202.74 L110.97 203.41 L111.2 204.05 L111.42 204.69 L111.63 205.3 L111.83 205.9 L112.02 206.48 L112.2 207.05 L112.38 207.6 L112.55 208.13 L112.71 208.64 L112.86 209.14 L112.99 209.59 L113.1 209.97 L113.18 210.31 L113.25 210.61 L113.31 210.89 L113.37 211.17 L113.44 211.47 L113.51 211.81 L113.6 212.19 L113.72 212.64 L113.86 213.17 L114.04 213.8 L114.25 214.53 L114.5 215.35 L114.77 216.24 L115.07 217.2 L115.38 218.21 L115.7 219.25 L116.03 220.32 L116.36 221.4 L116.69 222.48 L117 223.54 L117.3 224.59 L117.58 225.59 L117.84 226.57 L118.09 227.53 L118.33 228.49 L118.56 229.44 L118.8 230.39 L119.02 231.34 L119.25 232.31 L119.47 233.28 L119.7 234.28 L119.93 235.29 L120.17 236.32 L120.41 237.39 L120.66 238.49 L120.91 239.63 L121.16 240.79 L121.41 241.98 L121.67 243.18 L121.93 244.39 L122.19 245.61 L122.44 246.83 L122.7 248.03 L122.96 249.23 L123.22 250.4 L123.48 251.55 L123.73 252.68 L123.99 253.81 L124.26 254.94 L124.52 256.06 L124.79 257.18 L125.05 258.29 L125.31 259.38 L125.57 260.45 L125.83 261.51 L126.07 262.54 L126.31 263.54 L126.54 264.52 L126.77 265.5 L127 266.49 L127.24 267.5 L127.47 268.49 L127.7 269.46 L127.91 270.41 L128.12 271.3 L128.32 272.14 L128.49 272.91 L128.65 273.6 L128.79 274.19 L128.9 274.67" fill="none" stroke="#ff0000" stroke-width="1.3" stroke-dasharray="7.4 5" stroke-dashoffset="8.81"/>
<path d="M35.5 167.5 L35.71 167.27 L35.97 167 L36.27 166.67 L36.6 166.31 L36.96 165.92 L37.35 165.49 L37.77 165.05 L38.2 164.6 L38.64 164.14 L39.09 163.67 L39.55 163.22 L40 162.77 L40.46 162.33 L40.95 161.87 L41.46 161.4 L41.98 160.93 L42.52 160.44 L43.06 159.95 L43.61 159.46 L44.17 158.97 L44.72 158.48 L45.27 158 L45.82 157.52 L46.35 157.06 L46.88 156.59 L47.41 156.12 L47.94 155.64 L48.47 155.16 L49 154.68 L49.53 154.21 L50.06 153.75 L50.59 153.31 L51.12 152.88 L51.65 152.47 L52.17 152.08 L52.7 151.72 L53.23 151.39 L53.76 151.08 L54.29 150.79 L54.82 150.52 L55.35 150.27 L55.88 150.03 L56.41 149.8 L56.94 149.59 L57.47 149.38 L58 149.18 L58.53 148.99 L59.06 148.8 L59.59 148.61 L60.11 148.44 L60.64 148.27 L61.17 148.11 L61.7 147.96 L62.23 147.82 L62.76 147.69 L63.29 147.57 L63.82 147.45 L64.35 147.34 L64.88 147.24 L65.41 147.15 L65.94 147.06 L66.47 146.97 L67 146.89 L67.53 146.81 L68.06 146.74 L68.58 146.68 L69.11 146.63 L69.64 146.6 L70.17 146.58 L70.7 146.58 L71.23 146.6 L71.76 146.64 L72.29 146.7 L72.82 146.77 L73.35 146.87 L73.88 146.97 L74.41 147.1 L74.94 147.23 L75.47 147.39 L76 147.56 L76.52 147.75 L77.05 147.95 L77.58 148.18 L78.11 148.42 L78.64 148.68 L79.17 148.95 L79.7 149.25 L80.23 149.56 L80.76 149.88 L81.29 150.23 L81.82 150.59 L82.35 150.96 L82.88 151.35 L83.41 151.76 L83.94 152.18 L84.46 152.61 L84.99 153.06 L85.52 153.51 L86.05 153.99 L86.58 154.47 L87.11 154.97 L87.64 155.49 L88.17 156.03 L88.7 156.58 L89.23 157.14 L89.76 157.73 L90.29 158.34 L90.82 158.96 L91.35 159.62 L91.88 160.31 L92.42 161.04 L92.96 161.79 L93.5 162.55 L94.03 163.33 L94.57 164.11 L95.1 164.89 L95.63 165.66 L96.15 166.42 L96.66 167.15 L97.17 167.85 L97.68 168.55 L98.2 169.25 L98.72 169.95 L99.24 170.64 L99.76 171.33 L100.27 172 L100.76 172.66 L101.24 173.29 L101.7 173.89 L102.13 174.46 L102.52 174.99 L102.89 175.48 L103.21 175.91 L103.5 176.3 L103.75 176.64 L103.98 176.94 L104.19 177.22 L104.38 177.47 L104.55 177.71 L104.72 177.95 L104.88 178.19 L105.05 178.44 L105.22 178.71 L105.4 179 L105.58 179.31 L105.76 179.63 L105.93 179.95 L106.1 180.28 L106.26 180.6 L106.42 180.93 L106.58 181.26 L106.74 181.59 L106.9 181.92 L107.06 182.25 L107.23 182.58 L107.4 182.9 L107.58 183.22 L107.76 183.54 L107.95 183.85 L108.13 184.17 L108.32 184.48 L108.51 184.79 L108.7 185.11 L108.89 185.42 L109.07 185.74 L109.25 186.06 L109.43 186.38 L109.6 186.7 L109.76 187.03 L109.92 187.36 L110.07 187.69 L110.21 188.02 L110.36 188.35 L110.5 188.69 L110.64 189.02 L110.79 189.36 L110.93 189.7 L111.08 190.03 L111.24 190.37 L111.4 190.7 L111.57 191.03 L111.75 191.37 L111.93 191.7 L112.12 192.04 L112.31 192.37 L112.5 192.71 L112.69 193.04 L112.88 193.37 L113.07 193.71 L113.25 194.04 L113.43 194.37 L113.6 194.7 L113.76 195.03 L113.92 195.36 L114.08 195.68 L114.23 196.01 L114.38 196.34 L114.53 196.66 L114.68 196.99 L114.82 197.31 L114.97 197.63 L115.11 197.96 L115.25 198.28 L115.4 198.6 L115.54 198.92 L115.68 199.24 L115.82 199.55 L115.96 199.87 L116.09 200.18 L116.23 200.49 L116.36 200.81 L116.5 201.12 L116.64 201.44 L116.79 201.76 L116.94 202.08 L117.1 202.4 L117.27 202.72 L117.44 203.04 L117.62 203.36 L117.81 203.68 L118 204 L118.19 204.32 L118.39 204.65 L118.58 204.98 L118.77 205.32 L118.95 205.67 L119.13 206.03 L119.3 206.4 L119.46 206.76 L119.59 207.1 L119.71 207.43 L119.83 207.75 L119.94 208.08 L120.05 208.43 L120.17 208.81 L120.31 209.22 L120.47 209.68 L120.65 210.19 L120.86 210.78 L121.12 211.44 L121.41 212.18 L121.73 213.01 L122.09 213.91 L122.47 214.87 L122.88 215.87 L123.29 216.91 L123.72 217.98 L124.15 219.05 L124.59 220.13 L125.01 221.19 L125.43 222.23 L125.83 223.23 L126.23 224.22 L126.63 225.21 L127.04 226.21 L127.45 227.21 L127.86 228.21 L128.27 229.21 L128.67 230.2 L129.07 231.19 L129.46 232.16 L129.84 233.13 L130.2 234.09 L130.55 235.03 L130.89 235.96 L131.21 236.87 L131.52 237.77 L131.82 238.66 L132.11 239.54 L132.4 240.41 L132.68 241.28 L132.96 242.15 L133.24 243.02 L133.52 243.89 L133.8 244.77 L134.09 245.65 L134.39 246.53 L134.68 247.42 L134.98 248.3 L135.27 249.19 L135.57 250.07 L135.86 250.96 L136.16 251.84 L136.45 252.73 L136.75 253.61 L137.04 254.5 L137.34 255.38 L137.63 256.26 L137.93 257.16 L138.24 258.07 L138.54 258.99 L138.85 259.91 L139.17 260.83 L139.47 261.75 L139.78 262.66 L140.08 263.55 L140.37 264.43 L140.65 265.28 L140.92 266.1 L141.17 266.88 L141.42 267.65 L141.66 268.43 L141.9 269.21 L142.13 269.98 L142.36 270.72 L142.57 271.44 L142.77 272.12 L142.96 272.75 L143.13 273.34 L143.29 273.85 L143.42 274.3 L143.53 274.67" fill="none" stroke="#00ff00" stroke-width="1.6" stroke-dasharray="1.5 2.85" stroke-dashoffset="0"/>
</g>
<text transform="translate(44.83 266.6) scale(0.739 1)" font-size="7.8" fill="#000" stroke="#000" stroke-width="0">PKS</text>
<text transform="translate(56.76 266.6) scale(1.121 1)" font-size="7.8" fill="#000" stroke="#000" stroke-width="0">0742+10</text>
<g clip-path="url(#c11)">
<path d="M245.4 211.9 V220.6 M243.8 218.4 L245.4 220.6 L247 218.4" stroke="#333" stroke-width="0.8" fill="none"/>
<path d="M250.8 221 V229.3 M249.2 227.1 L250.8 229.3 L252.4 227.1" stroke="#333" stroke-width="0.8" fill="none"/>
<circle cx="245.4" cy="211.9" r="2.05" fill="#fff" stroke="#333" stroke-width="0.8"/>
<circle cx="181.2" cy="150.9" r="2" fill="#000"/>
<circle cx="184.8" cy="156.1" r="2" fill="#000"/>
<circle cx="189.2" cy="158.4" r="2" fill="#000"/>
<circle cx="196.3" cy="173.8" r="2" fill="#000"/>
<circle cx="227.7" cy="179.2" r="2" fill="#000"/>
<circle cx="224.6" cy="187.4" r="2" fill="#000"/>
<circle cx="248.9" cy="218" r="2" fill="#000"/>
<circle cx="252" cy="222" r="2" fill="#000"/>
<circle cx="267" cy="227.9" r="1.8" fill="#000"/>
<path d="M164 192 L292.5 237.2" fill="none" stroke="#8000ff" stroke-width="1.35" stroke-dasharray="6.7 2.5 1.4 2.5" stroke-dashoffset="11.91"/>
<path d="M164 162.42 L164.08 162.33 L164.17 162.23 L164.26 162.12 L164.37 162 L164.49 161.86 L164.62 161.7 L164.77 161.53 L164.94 161.33 L165.14 161.11 L165.36 160.87 L165.61 160.6 L165.89 160.3 L166.2 159.96 L166.55 159.56 L166.94 159.12 L167.35 158.65 L167.78 158.15 L168.23 157.65 L168.7 157.14 L169.17 156.63 L169.65 156.14 L170.13 155.68 L170.61 155.25 L171.08 154.87 L171.55 154.53 L172.03 154.2 L172.53 153.88 L173.04 153.58 L173.55 153.3 L174.06 153.03 L174.57 152.78 L175.07 152.55 L175.57 152.34 L176.05 152.14 L176.52 151.96 L176.98 151.81 L177.41 151.67 L177.83 151.54 L178.24 151.42 L178.64 151.33 L179.03 151.25 L179.41 151.19 L179.79 151.15 L180.17 151.13 L180.54 151.14 L180.92 151.18 L181.31 151.24 L181.7 151.34 L182.09 151.45 L182.48 151.59 L182.87 151.75 L183.27 151.93 L183.66 152.14 L184.05 152.37 L184.45 152.63 L184.84 152.92 L185.23 153.24 L185.63 153.59 L186.02 153.98 L186.41 154.4 L186.81 154.87 L187.2 155.37 L187.59 155.9 L187.99 156.47 L188.38 157.08 L188.77 157.71 L189.17 158.36 L189.56 159.04 L189.95 159.74 L190.35 160.47 L190.74 161.2 L191.13 161.95 L191.53 162.73 L191.93 163.54 L192.34 164.39 L192.75 165.26 L193.16 166.16 L193.57 167.07 L193.97 167.99 L194.37 168.92 L194.75 169.84 L195.13 170.76 L195.5 171.68 L195.85 172.57 L196.19 173.45 L196.51 174.33 L196.82 175.2 L197.12 176.07 L197.41 176.93 L197.69 177.8 L197.98 178.68 L198.25 179.56 L198.53 180.45 L198.81 181.35 L199.1 182.26 L199.39 183.19 L199.69 184.13 L199.99 185.08 L200.29 186.05 L200.59 187.03 L200.89 188.02 L201.19 189.01 L201.49 190.01 L201.78 191.01 L202.08 192.01 L202.37 193 L202.65 194 L202.93 194.98 L203.21 195.98 L203.48 197.01 L203.76 198.04 L204.04 199.09 L204.31 200.14 L204.58 201.18 L204.84 202.2 L205.1 203.2 L205.34 204.17 L205.57 205.09 L205.79 205.96 L206 206.78 L206.18 207.5 L206.33 208.12 L206.46 208.65 L206.58 209.12 L206.69 209.56 L206.79 209.99 L206.9 210.44 L207.01 210.93 L207.14 211.49 L207.28 212.13 L207.45 212.89 L207.65 213.8 L207.88 214.83 L208.13 215.97 L208.41 217.2 L208.71 218.51 L209.01 219.89 L209.33 221.31 L209.65 222.78 L209.97 224.28 L210.29 225.79 L210.6 227.31 L210.9 228.82 L211.19 230.31 L211.46 231.81 L211.73 233.35 L211.99 234.92 L212.25 236.52 L212.51 238.13 L212.76 239.75 L213.02 241.37 L213.27 242.98 L213.51 244.58 L213.76 246.15 L214.01 247.69 L214.25 249.19 L214.5 250.67 L214.75 252.15 L215 253.64 L215.25 255.11 L215.5 256.57 L215.74 258 L215.98 259.41 L216.22 260.77 L216.45 262.09 L216.67 263.36 L216.88 264.56 L217.09 265.7 L217.28 266.79 L217.48 267.85 L217.67 268.88 L217.85 269.86 L218.03 270.8 L218.21 271.69 L218.37 272.52 L218.52 273.29 L218.66 273.99 L218.78 274.61 L218.88 275.15 L218.97 275.61" fill="none" stroke="#ff0000" stroke-width="1.3" stroke-dasharray="7.4 5" stroke-dashoffset="9.08"/>
<path d="M164 138.12 L164.07 138.18 L164.14 138.23 L164.21 138.27 L164.28 138.32 L164.37 138.39 L164.47 138.46 L164.6 138.56 L164.77 138.68 L164.97 138.84 L165.22 139.03 L165.53 139.26 L165.89 139.54 L166.32 139.87 L166.81 140.25 L167.36 140.68 L167.96 141.15 L168.6 141.64 L169.26 142.16 L169.95 142.7 L170.66 143.25 L171.37 143.81 L172.07 144.36 L172.77 144.91 L173.44 145.44 L174.11 145.96 L174.8 146.5 L175.51 147.04 L176.22 147.6 L176.95 148.15 L177.67 148.71 L178.39 149.27 L179.09 149.83 L179.78 150.39 L180.45 150.95 L181.09 151.5 L181.7 152.04 L182.27 152.58 L182.81 153.11 L183.34 153.64 L183.84 154.16 L184.32 154.68 L184.79 155.2 L185.26 155.72 L185.71 156.25 L186.17 156.78 L186.64 157.31 L187.11 157.86 L187.59 158.41 L188.08 158.98 L188.55 159.55 L189.01 160.13 L189.47 160.72 L189.93 161.31 L190.4 161.91 L190.87 162.51 L191.35 163.11 L191.85 163.71 L192.37 164.3 L192.92 164.9 L193.49 165.49 L194.09 166.08 L194.72 166.66 L195.36 167.23 L196.03 167.81 L196.71 168.38 L197.4 168.96 L198.11 169.54 L198.82 170.12 L199.55 170.72 L200.28 171.32 L201.01 171.94 L201.75 172.57 L202.49 173.21 L203.23 173.87 L203.97 174.53 L204.72 175.21 L205.48 175.89 L206.25 176.58 L207.03 177.28 L207.82 177.98 L208.63 178.69 L209.46 179.4 L210.31 180.11 L211.19 180.83 L212.09 181.55 L213.02 182.27 L213.97 183 L214.94 183.73 L215.93 184.47 L216.94 185.21 L217.95 185.95 L218.96 186.71 L219.98 187.47 L220.99 188.24 L221.99 189.01 L222.98 189.79 L223.98 190.6 L225.01 191.43 L226.05 192.28 L227.1 193.15 L228.15 194.02 L229.19 194.89 L230.21 195.75 L231.21 196.6 L232.17 197.43 L233.1 198.23 L233.97 198.99 L234.78 199.7 L235.54 200.38 L236.25 201.04 L236.93 201.68 L237.57 202.3 L238.17 202.89 L238.75 203.46 L239.29 204.01 L239.81 204.54 L240.31 205.04 L240.79 205.52 L241.25 205.97 L241.7 206.4 L242.12 206.79 L242.51 207.15 L242.87 207.47 L243.2 207.76 L243.51 208.02 L243.8 208.27 L244.08 208.5 L244.35 208.73 L244.61 208.96 L244.87 209.2 L245.13 209.44 L245.4 209.7 L245.67 209.97 L245.93 210.24 L246.18 210.51 L246.43 210.78 L246.67 211.05 L246.91 211.31 L247.14 211.58 L247.37 211.84 L247.6 212.11 L247.83 212.37 L248.06 212.64 L248.3 212.9 L248.54 213.16 L248.77 213.42 L249.01 213.68 L249.24 213.94 L249.47 214.2 L249.71 214.46 L249.94 214.72 L250.17 214.98 L250.4 215.23 L250.63 215.49 L250.87 215.75 L251.1 216 L251.33 216.25 L251.56 216.5 L251.8 216.75 L252.03 216.99 L252.26 217.24 L252.49 217.48 L252.72 217.73 L252.95 217.97 L253.19 218.22 L253.42 218.48 L253.66 218.74 L253.9 219 L254.14 219.27 L254.39 219.54 L254.64 219.82 L254.9 220.11 L255.15 220.39 L255.41 220.68 L255.66 220.97 L255.91 221.26 L256.17 221.55 L256.42 221.83 L256.66 222.12 L256.9 222.4 L257.14 222.68 L257.37 222.95 L257.6 223.23 L257.83 223.5 L258.06 223.77 L258.28 224.04 L258.5 224.31 L258.73 224.58 L258.95 224.86 L259.17 225.13 L259.38 225.41 L259.6 225.7 L259.82 225.99 L260.03 226.28 L260.24 226.58 L260.44 226.88 L260.65 227.18 L260.86 227.48 L261.06 227.78 L261.27 228.09 L261.47 228.39 L261.68 228.7 L261.89 229 L262.1 229.3 L262.31 229.6 L262.53 229.9 L262.74 230.2 L262.96 230.5 L263.17 230.81 L263.39 231.11 L263.6 231.41 L263.82 231.71 L264.04 232.01 L264.26 232.31 L264.48 232.6 L264.7 232.9 L264.92 233.19 L265.15 233.49 L265.37 233.78 L265.6 234.07 L265.82 234.36 L266.05 234.65 L266.28 234.94 L266.5 235.23 L266.73 235.52 L266.95 235.81 L267.18 236.11 L267.4 236.4 L267.62 236.7 L267.84 237 L268.06 237.3 L268.27 237.6 L268.49 237.91 L268.71 238.21 L268.92 238.52 L269.14 238.82 L269.35 239.12 L269.57 239.42 L269.78 239.71 L270 240 L270.21 240.27 L270.41 240.52 L270.61 240.74 L270.8 240.96 L270.99 241.17 L271.19 241.39 L271.39 241.63 L271.6 241.89 L271.82 242.17 L272.06 242.5 L272.32 242.87 L272.6 243.3 L272.9 243.79 L273.22 244.33 L273.56 244.91 L273.91 245.53 L274.28 246.18 L274.65 246.86 L275.03 247.55 L275.42 248.25 L275.82 248.95 L276.21 249.65 L276.61 250.33 L277 251 L277.4 251.66 L277.8 252.32 L278.21 252.99 L278.62 253.66 L279.04 254.33 L279.46 255.01 L279.89 255.68 L280.31 256.35 L280.74 257.02 L281.16 257.69 L281.58 258.35 L282 259 L282.42 259.65 L282.84 260.3 L283.27 260.96 L283.7 261.61 L284.13 262.26 L284.56 262.9 L284.99 263.54 L285.41 264.17 L285.82 264.79 L286.22 265.41 L286.62 266.01 L287 266.6 L287.38 267.19 L287.75 267.78 L288.13 268.38 L288.5 268.97 L288.87 269.55 L289.23 270.12 L289.57 270.68 L289.9 271.21 L290.21 271.71 L290.5 272.18 L290.76 272.61 L291 273 L291.21 273.35 L291.4 273.66 L291.57 273.94 L291.71 274.19 L291.84 274.41 L291.95 274.6 L292.05 274.77 L292.13 274.93 L292.21 275.06 L292.28 275.19 L292.34 275.3 L292.4 275.4" fill="none" stroke="#00ff00" stroke-width="1.6" stroke-dasharray="1.5 2.85" stroke-dashoffset="0"/>
</g>
<text transform="translate(173.47 266.6) scale(0.833 1)" font-size="7.8" fill="#000" stroke="#000" stroke-width="0">FIRSTJ</text>
<text transform="translate(195.99 266.6) scale(1.031 1)" font-size="7.8" fill="#000" stroke="#000" stroke-width="0">074729.3+365438</text>
<g clip-path="url(#c12)">
<circle cx="309.7" cy="145.9" r="2" fill="#000"/>
<circle cx="313.9" cy="151.3" r="2" fill="#000"/>
<circle cx="318" cy="153" r="2" fill="#000"/>
<circle cx="319.1" cy="158.4" r="2" fill="#000"/>
<circle cx="325" cy="169" r="2" fill="#000"/>
<circle cx="353.8" cy="186.3" r="2" fill="#000"/>
<circle cx="356.9" cy="187.9" r="2" fill="#000"/>
<circle cx="374" cy="198.7" r="2" fill="#000"/>
<circle cx="377.5" cy="207.5" r="2" fill="#000"/>
<circle cx="378.9" cy="212.4" r="2" fill="#000"/>
<circle cx="381" cy="216.2" r="2" fill="#000"/>
<circle cx="388.5" cy="218.8" r="2" fill="#000"/>
<circle cx="388.8" cy="222.3" r="2" fill="#000"/>
<circle cx="390.1" cy="227.6" r="2" fill="#000"/>
<circle cx="391.5" cy="233.7" r="2" fill="#000"/>
<path d="M335.5 137 L418.8 275.2" fill="none" stroke="#8000ff" stroke-width="1.35" stroke-dasharray="6.7 2.5 1.4 2.5" stroke-dashoffset="11.76"/>
<path d="M292.47 143.55 L292.53 143.53 L292.58 143.51 L292.64 143.48 L292.7 143.45 L292.77 143.42 L292.86 143.39 L292.96 143.35 L293.08 143.31 L293.23 143.26 L293.42 143.2 L293.63 143.14 L293.89 143.08 L294.19 143 L294.54 142.9 L294.93 142.79 L295.36 142.67 L295.81 142.54 L296.28 142.41 L296.76 142.29 L297.24 142.18 L297.73 142.08 L298.2 141.99 L298.65 141.93 L299.08 141.9 L299.48 141.88 L299.88 141.87 L300.26 141.87 L300.64 141.87 L301.02 141.89 L301.39 141.93 L301.77 141.98 L302.15 142.06 L302.55 142.15 L302.95 142.28 L303.36 142.43 L303.8 142.61 L304.25 142.82 L304.73 143.08 L305.22 143.36 L305.72 143.67 L306.23 144.01 L306.75 144.36 L307.26 144.73 L307.77 145.11 L308.28 145.49 L308.77 145.87 L309.24 146.25 L309.7 146.62 L310.13 146.98 L310.55 147.34 L310.96 147.69 L311.36 148.05 L311.74 148.41 L312.13 148.78 L312.51 149.17 L312.88 149.56 L313.26 149.97 L313.64 150.4 L314.02 150.86 L314.41 151.34 L314.81 151.84 L315.2 152.37 L315.59 152.91 L315.99 153.48 L316.38 154.06 L316.77 154.65 L317.17 155.26 L317.56 155.88 L317.95 156.51 L318.35 157.14 L318.74 157.78 L319.13 158.41 L319.53 159.06 L319.93 159.72 L320.34 160.4 L320.75 161.08 L321.16 161.77 L321.57 162.47 L321.97 163.17 L322.37 163.88 L322.75 164.58 L323.13 165.28 L323.5 165.98 L323.85 166.67 L324.19 167.36 L324.51 168.03 L324.82 168.71 L325.12 169.38 L325.41 170.05 L325.69 170.73 L325.98 171.4 L326.25 172.09 L326.53 172.78 L326.81 173.48 L327.1 174.2 L327.39 174.93 L327.69 175.67 L327.98 176.42 L328.27 177.18 L328.57 177.94 L328.86 178.72 L329.16 179.5 L329.45 180.29 L329.75 181.09 L330.04 181.9 L330.34 182.71 L330.63 183.54 L330.93 184.37 L331.22 185.21 L331.52 186.07 L331.81 186.94 L332.11 187.82 L332.4 188.71 L332.7 189.6 L332.99 190.5 L333.29 191.4 L333.58 192.3 L333.88 193.2 L334.17 194.1 L334.47 194.98 L334.77 195.87 L335.07 196.77 L335.38 197.67 L335.69 198.57 L336 199.47 L336.31 200.37 L336.62 201.26 L336.91 202.15 L337.21 203.03 L337.49 203.9 L337.75 204.76 L338.01 205.6 L338.24 206.41 L338.46 207.18 L338.65 207.92 L338.84 208.64 L339.01 209.35 L339.19 210.07 L339.36 210.79 L339.54 211.54 L339.72 212.33 L339.92 213.15 L340.13 214.03 L340.37 214.98 L340.62 215.98 L340.89 217.05 L341.17 218.15 L341.46 219.3 L341.76 220.48 L342.06 221.68 L342.37 222.91 L342.68 224.15 L342.99 225.4 L343.3 226.65 L343.61 227.9 L343.91 229.13 L344.2 230.37 L344.5 231.62 L344.79 232.88 L345.09 234.16 L345.38 235.44 L345.68 236.73 L345.97 238.02 L346.26 239.31 L346.56 240.61 L346.85 241.9 L347.15 243.19 L347.44 244.47 L347.74 245.74 L348.04 247.02 L348.34 248.29 L348.64 249.56 L348.94 250.83 L349.24 252.11 L349.54 253.38 L349.84 254.66 L350.13 255.94 L350.42 257.22 L350.71 258.51 L350.98 259.8 L351.27 261.16 L351.56 262.59 L351.86 264.09 L352.15 265.62 L352.45 267.16 L352.74 268.67 L353.01 270.12 L353.27 271.5 L353.51 272.76 L353.72 273.89 L353.9 274.85 L354.05 275.61" fill="none" stroke="#ff0000" stroke-width="1.3" stroke-dasharray="7.4 5" stroke-dashoffset="9.99"/>
<path d="M304.5 137.89 L304.76 138.28 L305.07 138.79 L305.45 139.39 L305.87 140.06 L306.32 140.79 L306.8 141.56 L307.3 142.34 L307.81 143.13 L308.31 143.9 L308.8 144.63 L309.26 145.31 L309.7 145.91 L310.1 146.45 L310.51 146.94 L310.91 147.41 L311.3 147.85 L311.69 148.27 L312.08 148.68 L312.47 149.09 L312.86 149.5 L313.25 149.92 L313.63 150.37 L314.02 150.83 L314.41 151.34 L314.81 151.88 L315.21 152.45 L315.6 153.05 L316 153.67 L316.4 154.3 L316.8 154.93 L317.2 155.56 L317.59 156.19 L317.98 156.79 L318.37 157.36 L318.76 157.91 L319.13 158.41 L319.51 158.88 L319.89 159.33 L320.26 159.75 L320.64 160.15 L321.01 160.54 L321.38 160.91 L321.74 161.26 L322.1 161.6 L322.44 161.94 L322.77 162.26 L323.09 162.58 L323.4 162.9 L323.69 163.21 L323.96 163.5 L324.21 163.78 L324.45 164.05 L324.67 164.32 L324.9 164.57 L325.12 164.81 L325.34 165.06 L325.56 165.29 L325.8 165.53 L326.04 165.76 L326.3 166 L326.57 166.23 L326.85 166.46 L327.14 166.68 L327.43 166.89 L327.72 167.1 L328.02 167.31 L328.32 167.52 L328.62 167.73 L328.92 167.94 L329.22 168.16 L329.51 168.37 L329.8 168.6 L330.09 168.83 L330.37 169.07 L330.65 169.31 L330.94 169.56 L331.22 169.81 L331.5 170.06 L331.78 170.3 L332.06 170.55 L332.35 170.8 L332.63 171.04 L332.91 171.27 L333.2 171.5 L333.49 171.72 L333.78 171.94 L334.07 172.15 L334.36 172.35 L334.65 172.55 L334.94 172.76 L335.24 172.96 L335.53 173.16 L335.82 173.36 L336.12 173.57 L336.41 173.78 L336.7 174 L336.99 174.22 L337.28 174.45 L337.57 174.68 L337.87 174.92 L338.16 175.16 L338.45 175.39 L338.74 175.63 L339.03 175.87 L339.32 176.11 L339.62 176.34 L339.91 176.57 L340.2 176.8 L340.49 177.02 L340.78 177.24 L341.07 177.46 L341.37 177.68 L341.66 177.9 L341.95 178.11 L342.24 178.33 L342.53 178.54 L342.82 178.75 L343.12 178.97 L343.41 179.18 L343.7 179.4 L343.99 179.62 L344.28 179.84 L344.57 180.06 L344.86 180.28 L345.15 180.5 L345.44 180.72 L345.73 180.94 L346.03 181.16 L346.32 181.37 L346.61 181.58 L346.9 181.79 L347.2 182 L347.5 182.2 L347.8 182.4 L348.1 182.6 L348.41 182.8 L348.71 182.99 L349.02 183.18 L349.32 183.37 L349.63 183.56 L349.93 183.75 L350.22 183.93 L350.51 184.12 L350.8 184.3 L351.08 184.48 L351.36 184.67 L351.63 184.85 L351.9 185.03 L352.17 185.2 L352.44 185.38 L352.7 185.56 L352.96 185.73 L353.22 185.9 L353.48 186.07 L353.74 186.24 L354 186.4 L354.25 186.55 L354.49 186.69 L354.72 186.82 L354.95 186.94 L355.18 187.06 L355.41 187.19 L355.64 187.32 L355.88 187.46 L356.14 187.61 L356.4 187.78 L356.69 187.98 L357 188.2 L357.33 188.45 L357.68 188.71 L358.04 188.98 L358.42 189.27 L358.81 189.58 L359.21 189.9 L359.61 190.23 L360.03 190.58 L360.44 190.94 L360.86 191.32 L361.28 191.7 L361.7 192.1 L362.12 192.52 L362.56 192.97 L363 193.45 L363.46 193.95 L363.91 194.46 L364.37 194.98 L364.83 195.49 L365.28 196.01 L365.72 196.51 L366.16 197 L366.59 197.46 L367 197.9 L367.4 198.31 L367.79 198.69 L368.17 199.06 L368.54 199.41 L368.9 199.75 L369.26 200.08 L369.62 200.41 L369.97 200.75 L370.33 201.09 L370.68 201.44 L371.04 201.81 L371.4 202.2 L371.76 202.61 L372.13 203.04 L372.5 203.49 L372.87 203.94 L373.23 204.41 L373.6 204.87 L373.96 205.34 L374.32 205.8 L374.68 206.25 L375.03 206.68 L375.37 207.1 L375.7 207.5 L376.02 207.86 L376.31 208.17 L376.59 208.45 L376.87 208.71 L377.13 208.96 L377.4 209.21 L377.67 209.48 L377.95 209.77 L378.25 210.1 L378.57 210.48 L378.92 210.92 L379.3 211.44 L379.71 212.04 L380.16 212.71 L380.64 213.44 L381.14 214.22 L381.65 215.04 L382.17 215.89 L382.7 216.75 L383.23 217.61 L383.75 218.47 L384.25 219.31 L384.74 220.11 L385.19 220.87 L385.63 221.6 L386.05 222.32 L386.46 223.02 L386.85 223.71 L387.24 224.4 L387.63 225.08 L388.01 225.75 L388.38 226.42 L388.76 227.1 L389.14 227.77 L389.52 228.45 L389.91 229.13 L390.31 229.81 L390.7 230.48 L391.09 231.14 L391.49 231.8 L391.88 232.45 L392.27 233.11 L392.67 233.78 L393.06 234.46 L393.45 235.16 L393.85 235.88 L394.24 236.62 L394.63 237.39 L395.02 238.19 L395.42 239.01 L395.81 239.85 L396.2 240.71 L396.6 241.59 L396.99 242.48 L397.38 243.38 L397.78 244.29 L398.17 245.21 L398.56 246.14 L398.96 247.07 L399.35 248.01 L399.74 248.95 L400.14 249.91 L400.53 250.87 L400.92 251.85 L401.32 252.84 L401.71 253.83 L402.1 254.83 L402.5 255.83 L402.89 256.83 L403.28 257.82 L403.68 258.82 L404.07 259.8 L404.47 260.81 L404.89 261.86 L405.32 262.94 L405.76 264.02 L406.19 265.11 L406.62 266.19 L407.04 267.24 L407.44 268.25 L407.82 269.2 L408.18 270.09 L408.5 270.89 L408.79 271.6 L409.04 272.22 L409.26 272.77 L409.45 273.24 L409.63 273.66 L409.78 274.03 L409.91 274.34 L410.02 274.62 L410.12 274.86 L410.21 275.07 L410.3 275.27 L410.37 275.44 L410.44 275.61" fill="none" stroke="#00ff00" stroke-width="1.6" stroke-dasharray="1.5 2.85" stroke-dashoffset="0"/>
</g>
<text transform="translate(301.78 266.6) scale(0.964 1)" font-size="7.8" fill="#000" stroke="#000" stroke-width="0">B</text>
<text transform="translate(307.19 266.6) scale(1.043 1)" font-size="7.8" fill="#000" stroke="#000" stroke-width="0">21121+31</text>
<text transform="translate(343.83 266.6) scale(0.891 1)" font-size="7.8" fill="#000" stroke="#000" stroke-width="0">B</text>
<g clip-path="url(#c13)">
<circle cx="436.8" cy="150.6" r="2" fill="#000"/>
<circle cx="445.8" cy="163.8" r="2" fill="#000"/>
<path d="M421 142 L421.09 142 L421.2 142 L421.33 142 L421.47 142 L421.62 142 L421.79 142.01 L421.97 142.01 L422.16 142.02 L422.35 142.03 L422.56 142.05 L422.78 142.07 L423 142.1 L423.23 142.13 L423.46 142.16 L423.71 142.19 L423.96 142.22 L424.23 142.25 L424.5 142.29 L424.78 142.34 L425.08 142.4 L425.39 142.47 L425.71 142.56 L426.05 142.67 L426.4 142.8 L426.77 142.94 L427.16 143.1 L427.58 143.26 L428.01 143.44 L428.45 143.63 L428.9 143.84 L429.35 144.06 L429.81 144.3 L430.27 144.55 L430.73 144.83 L431.18 145.12 L431.62 145.44 L432.05 145.78 L432.49 146.15 L432.94 146.55 L433.38 146.97 L433.83 147.41 L434.27 147.86 L434.71 148.32 L435.15 148.79 L435.58 149.25 L436 149.72 L436.41 150.18 L436.81 150.63 L437.19 151.06 L437.56 151.49 L437.92 151.91 L438.28 152.33 L438.62 152.75 L438.96 153.18 L439.3 153.61 L439.64 154.06 L439.98 154.53 L440.33 155.01 L440.69 155.52 L441.05 156.05 L441.43 156.61 L441.81 157.19 L442.2 157.79 L442.59 158.4 L442.99 159.02 L443.38 159.67 L443.78 160.33 L444.18 161 L444.58 161.69 L444.98 162.39 L445.38 163.11 L445.77 163.84 L446.17 164.59 L446.56 165.35 L446.95 166.12 L447.35 166.92 L447.74 167.72 L448.13 168.54 L448.53 169.38 L448.92 170.23 L449.31 171.09 L449.71 171.96 L450.1 172.85 L450.49 173.75 L450.89 174.66 L451.28 175.59 L451.67 176.54 L452.06 177.5 L452.46 178.47 L452.85 179.46 L453.24 180.45 L453.64 181.46 L454.03 182.47 L454.42 183.49 L454.82 184.52 L455.21 185.55 L455.61 186.6 L456.01 187.67 L456.42 188.77 L456.83 189.89 L457.24 191.01 L457.64 192.14 L458.05 193.26 L458.44 194.36 L458.83 195.45 L459.21 196.51 L459.58 197.54 L459.93 198.52 L460.25 199.4 L460.55 200.14 L460.81 200.77 L461.07 201.34 L461.31 201.89 L461.55 202.46 L461.8 203.1 L462.07 203.84 L462.36 204.73 L462.69 205.8 L463.05 207.1 L463.47 208.67 L463.93 210.52 L464.42 212.6 L464.94 214.89 L465.5 217.36 L466.07 219.98 L466.67 222.7 L467.28 225.52 L467.92 228.38 L468.56 231.27 L469.22 234.15 L469.88 236.98 L470.55 239.75 L471.25 242.59 L472.03 245.65 L472.85 248.85 L473.71 252.13 L474.58 255.43 L475.44 258.69 L476.28 261.86 L477.08 264.85 L477.82 267.62 L478.49 270.11 L479.06 272.24 L479.51 273.96 L479.85 275.24 L480.09 276.14 L480.24 276.7 L480.32 276.98 L480.33 277.04 L480.31 276.92 L480.25 276.69 L480.18 276.39 L480.1 276.08 L480.03 275.81 L479.99 275.64 L479.98 275.61" fill="none" stroke="#ff0000" stroke-width="1.3" stroke-dasharray="7.4 5" stroke-dashoffset="12.34"/>
<path d="M421 142 L421.09 142 L421.2 142 L421.33 142 L421.47 142 L421.62 142 L421.79 142.01 L421.97 142.01 L422.16 142.02 L422.35 142.03 L422.56 142.05 L422.78 142.07 L423 142.1 L423.23 142.13 L423.46 142.16 L423.71 142.19 L423.96 142.22 L424.23 142.25 L424.5 142.29 L424.78 142.34 L425.08 142.4 L425.39 142.47 L425.71 142.56 L426.05 142.67 L426.4 142.8 L426.77 142.94 L427.16 143.1 L427.58 143.26 L428.01 143.44 L428.45 143.63 L428.9 143.84 L429.35 144.06 L429.81 144.3 L430.27 144.55 L430.73 144.83 L431.18 145.12 L431.62 145.44 L432.05 145.78 L432.49 146.15 L432.94 146.55 L433.38 146.97 L433.83 147.41 L434.27 147.86 L434.71 148.32 L435.15 148.79 L435.58 149.25 L436 149.72 L436.41 150.18 L436.81 150.63 L437.19 151.06 L437.56 151.49 L437.92 151.91 L438.28 152.33 L438.62 152.75 L438.96 153.18 L439.3 153.61 L439.64 154.06 L439.98 154.53 L440.33 155.01 L440.69 155.52 L441.05 156.05 L441.43 156.61 L441.81 157.19 L442.2 157.79 L442.59 158.4 L442.99 159.02 L443.38 159.67 L443.78 160.33 L444.18 161 L444.58 161.69 L444.98 162.39 L445.38 163.11 L445.77 163.84 L446.17 164.59 L446.56 165.35 L446.95 166.12 L447.35 166.92 L447.74 167.72 L448.13 168.54 L448.53 169.38 L448.92 170.23 L449.31 171.09 L449.71 171.96 L450.1 172.85 L450.49 173.75 L450.89 174.66 L451.28 175.59 L451.67 176.54 L452.06 177.5 L452.46 178.47 L452.85 179.46 L453.24 180.45 L453.64 181.46 L454.03 182.47 L454.42 183.49 L454.82 184.52 L455.21 185.55 L455.61 186.6 L456.01 187.67 L456.42 188.77 L456.83 189.89 L457.24 191.01 L457.64 192.14 L458.05 193.26 L458.44 194.36 L458.83 195.45 L459.21 196.51 L459.58 197.54 L459.93 198.52 L460.25 199.4 L460.55 200.14 L460.81 200.77 L461.07 201.34 L461.31 201.89 L461.55 202.46 L461.8 203.1 L462.07 203.84 L462.36 204.73 L462.69 205.8 L463.05 207.1 L463.47 208.67 L463.93 210.52 L464.42 212.6 L464.94 214.89 L465.5 217.36 L466.07 219.98 L466.67 222.7 L467.28 225.52 L467.92 228.38 L468.56 231.27 L469.22 234.15 L469.88 236.98 L470.55 239.75 L471.25 242.59 L472.03 245.65 L472.85 248.85 L473.71 252.13 L474.58 255.43 L475.44 258.69 L476.28 261.86 L477.08 264.85 L477.82 267.62 L478.49 270.11 L479.06 272.24 L479.51 273.96 L479.85 275.24 L480.09 276.14 L480.24 276.7 L480.32 276.98 L480.33 277.04 L480.31 276.92 L480.25 276.69 L480.18 276.39 L480.1 276.08 L480.03 275.81 L479.99 275.64 L479.98 275.61" fill="none" stroke="#00ff00" stroke-width="1.6" stroke-dasharray="1.5 2.85" stroke-dashoffset="0"/>
</g>
<text transform="translate(430.78 266.6) scale(0.964 1)" font-size="7.8" fill="#000" stroke="#000" stroke-width="0">B</text>
<text transform="translate(436.2 266.6) scale(1.007 1)" font-size="7.8" fill="#000" stroke="#000" stroke-width="0">21240+39</text>
<text transform="translate(28.2 116.46) rotate(-90) scale(1.080 1)" font-size="11.3" fill="#000" stroke="#000" stroke-width="0.12">22</text>
<text transform="translate(28.2 86.71) rotate(-90) scale(1.058 1)" font-size="11.3" fill="#000" stroke="#000" stroke-width="0.12">24</text>
<text transform="translate(28.2 56.98) rotate(-90) scale(1.074 1)" font-size="11.3" fill="#000" stroke="#000" stroke-width="0.12">26</text>
<text transform="translate(28.2 27.23) rotate(-90) scale(1.073 1)" font-size="11.3" fill="#000" stroke="#000" stroke-width="0.12">28</text>
<text transform="translate(28.2 253.56) rotate(-90) scale(1.080 1)" font-size="11.3" fill="#000" stroke="#000" stroke-width="0.12">22</text>
<text transform="translate(28.2 223.81) rotate(-90) scale(1.058 1)" font-size="11.3" fill="#000" stroke="#000" stroke-width="0.12">24</text>
<text transform="translate(28.2 194.08) rotate(-90) scale(1.074 1)" font-size="11.3" fill="#000" stroke="#000" stroke-width="0.12">26</text>
<text transform="translate(28.2 164.33) rotate(-90) scale(1.073 1)" font-size="11.3" fill="#000" stroke="#000" stroke-width="0.12">28</text>
<text transform="translate(65.03 289) scale(1.035 1)" font-size="11" fill="#000" stroke="#000" stroke-width="0.1">10</text>
<text transform="translate(123.98 289) scale(1.038 1)" font-size="11" fill="#000" stroke="#000" stroke-width="0.1">15</text>
<text transform="translate(193.73 289) scale(1.035 1)" font-size="11" fill="#000" stroke="#000" stroke-width="0.1">10</text>
<text transform="translate(252.68 289) scale(1.038 1)" font-size="11" fill="#000" stroke="#000" stroke-width="0.1">15</text>
<text transform="translate(322.13 289) scale(1.035 1)" font-size="11" fill="#000" stroke="#000" stroke-width="0.1">10</text>
<text transform="translate(381.08 289) scale(1.038 1)" font-size="11" fill="#000" stroke="#000" stroke-width="0.1">15</text>
<text transform="translate(450.53 289) scale(1.035 1)" font-size="11" fill="#000" stroke="#000" stroke-width="0.1">10</text>
<text transform="translate(509.48 289) scale(1.038 1)" font-size="11" fill="#000" stroke="#000" stroke-width="0.1">15</text>
<text transform="translate(11.7 115.98) rotate(-90) scale(1.153 1)" font-size="11" fill="#000" stroke="#000" stroke-width="0.08">log</text>
<text transform="translate(16 100.07) rotate(-90) scale(1.009 1)" font-size="8.4" fill="#000" stroke="#000" stroke-width="0.16">10</text>
<text transform="translate(11.7 90.97) rotate(-90) scale(1.317 1)" font-size="11.6" fill="#000" stroke="#000" stroke-width="0.08">(</text>
<text transform="translate(11.7 85.73) rotate(-90) scale(0.897 1)" font-size="11" fill="#000" stroke="#000" stroke-width="0.08">L</text>
<text transform="translate(14.6 80.59) rotate(-90) scale(0.940 1)" font-size="8" font-style="italic" fill="#000" stroke="#000" stroke-width="0.16">ν</text>
<text transform="translate(11.7 75.81) rotate(-90) scale(1.317 1)" font-size="11.6" fill="#000" stroke="#000" stroke-width="0.08">)</text>
<text transform="translate(11.7 66.31) rotate(-90) scale(1.670 1)" font-size="11.6" fill="#000" stroke="#000" stroke-width="0.08">[</text>
<text transform="translate(11.7 59.86) rotate(-90) scale(0.821 1)" font-size="11" fill="#000" stroke="#000" stroke-width="0.08">W</text>
<text transform="translate(11.7 47.2) rotate(-90) scale(0.854 1)" font-size="11" fill="#000" stroke="#000" stroke-width="0.08">H</text>
<text transform="translate(11.7 40.26) rotate(-90) scale(0.965 1)" font-size="11" fill="#000" stroke="#000" stroke-width="0.08">z</text>
<text transform="translate(6.4 34.44) rotate(-90) scale(1.042 1)" font-size="8" fill="#000" stroke="#000" stroke-width="0.16">−</text>
<text transform="translate(6.4 29.41) rotate(-90) scale(0.797 1)" font-size="8" fill="#000" stroke="#000" stroke-width="0.16">1</text>
<text transform="translate(11.7 24.38) rotate(-90) scale(1.757 1)" font-size="11.6" fill="#000" stroke="#000" stroke-width="0.08">]</text>
<text transform="translate(11.7 253.08) rotate(-90) scale(1.153 1)" font-size="11" fill="#000" stroke="#000" stroke-width="0.08">log</text>
<text transform="translate(16 237.17) rotate(-90) scale(1.009 1)" font-size="8.4" fill="#000" stroke="#000" stroke-width="0.16">10</text>
<text transform="translate(11.7 228.07) rotate(-90) scale(1.317 1)" font-size="11.6" fill="#000" stroke="#000" stroke-width="0.08">(</text>
<text transform="translate(11.7 222.83) rotate(-90) scale(0.897 1)" font-size="11" fill="#000" stroke="#000" stroke-width="0.08">L</text>
<text transform="translate(14.6 217.69) rotate(-90) scale(0.940 1)" font-size="8" font-style="italic" fill="#000" stroke="#000" stroke-width="0.16">ν</text>
<text transform="translate(11.7 212.91) rotate(-90) scale(1.317 1)" font-size="11.6" fill="#000" stroke="#000" stroke-width="0.08">)</text>
<text transform="translate(11.7 203.41) rotate(-90) scale(1.670 1)" font-size="11.6" fill="#000" stroke="#000" stroke-width="0.08">[</text>
<text transform="translate(11.7 196.96) rotate(-90) scale(0.821 1)" font-size="11" fill="#000" stroke="#000" stroke-width="0.08">W</text>
<text transform="translate(11.7 184.3) rotate(-90) scale(0.854 1)" font-size="11" fill="#000" stroke="#000" stroke-width="0.08">H</text>
<text transform="translate(11.7 177.36) rotate(-90) scale(0.965 1)" font-size="11" fill="#000" stroke="#000" stroke-width="0.08">z</text>
<text transform="translate(6.4 171.54) rotate(-90) scale(1.042 1)" font-size="8" fill="#000" stroke="#000" stroke-width="0.16">−</text>
<text transform="translate(6.4 166.51) rotate(-90) scale(0.797 1)" font-size="8" fill="#000" stroke="#000" stroke-width="0.16">1</text>
<text transform="translate(11.7 161.48) rotate(-90) scale(1.757 1)" font-size="11.6" fill="#000" stroke="#000" stroke-width="0.08">]</text>
<text transform="translate(60.69 309.5) scale(1.055 1)" font-size="11" fill="#000" stroke="#000" stroke-width="0.08">log</text>
<text transform="translate(75.91 313.6) scale(0.986 1)" font-size="8.8" fill="#000" stroke="#000" stroke-width="0.16">10</text>
<text transform="translate(85.8 309.5) scale(0.797 1)" font-size="11.6" fill="#000" stroke="#000" stroke-width="0.08">(</text>
<text transform="translate(90.02 309.5) scale(0.847 1)" font-size="11" font-style="italic" fill="#000" stroke="#000" stroke-width="0.08">ν</text>
<text transform="translate(95.98 313.5) scale(1.078 1)" font-size="8.3" fill="#000" stroke="#000" stroke-width="0.16">rest</text>
<text transform="translate(112.2 309.5) scale(1.122 1)" font-size="11.6" fill="#000" stroke="#000" stroke-width="0.08">)</text>
<text transform="translate(121.32 309.5) scale(1.280 1)" font-size="11.6" fill="#000" stroke="#000" stroke-width="0.08">[</text>
<text transform="translate(126.39 309.5) scale(0.871 1)" font-size="11" fill="#000" stroke="#000" stroke-width="0.08">H</text>
<text transform="translate(133.61 309.5) scale(1.054 1)" font-size="11" fill="#000" stroke="#000" stroke-width="0.08">z</text>
<text transform="translate(140.07 309.5) scale(1.106 1)" font-size="11.6" fill="#000" stroke="#000" stroke-width="0.08">]</text>
<text transform="translate(189.39 309.5) scale(1.055 1)" font-size="11" fill="#000" stroke="#000" stroke-width="0.08">log</text>
<text transform="translate(204.61 313.6) scale(0.986 1)" font-size="8.8" fill="#000" stroke="#000" stroke-width="0.16">10</text>
<text transform="translate(214.5 309.5) scale(0.797 1)" font-size="11.6" fill="#000" stroke="#000" stroke-width="0.08">(</text>
<text transform="translate(218.72 309.5) scale(0.847 1)" font-size="11" font-style="italic" fill="#000" stroke="#000" stroke-width="0.08">ν</text>
<text transform="translate(224.68 313.5) scale(1.078 1)" font-size="8.3" fill="#000" stroke="#000" stroke-width="0.16">rest</text>
<text transform="translate(240.9 309.5) scale(1.122 1)" font-size="11.6" fill="#000" stroke="#000" stroke-width="0.08">)</text>
<text transform="translate(250.02 309.5) scale(1.280 1)" font-size="11.6" fill="#000" stroke="#000" stroke-width="0.08">[</text>
<text transform="translate(255.09 309.5) scale(0.871 1)" font-size="11" fill="#000" stroke="#000" stroke-width="0.08">H</text>
<text transform="translate(262.31 309.5) scale(1.054 1)" font-size="11" fill="#000" stroke="#000" stroke-width="0.08">z</text>
<text transform="translate(268.77 309.5) scale(1.106 1)" font-size="11.6" fill="#000" stroke="#000" stroke-width="0.08">]</text>
<text transform="translate(317.79 309.5) scale(1.055 1)" font-size="11" fill="#000" stroke="#000" stroke-width="0.08">log</text>
<text transform="translate(333.01 313.6) scale(0.986 1)" font-size="8.8" fill="#000" stroke="#000" stroke-width="0.16">10</text>
<text transform="translate(342.9 309.5) scale(0.797 1)" font-size="11.6" fill="#000" stroke="#000" stroke-width="0.08">(</text>
<text transform="translate(347.12 309.5) scale(0.847 1)" font-size="11" font-style="italic" fill="#000" stroke="#000" stroke-width="0.08">ν</text>
<text transform="translate(353.08 313.5) scale(1.078 1)" font-size="8.3" fill="#000" stroke="#000" stroke-width="0.16">rest</text>
<text transform="translate(369.3 309.5) scale(1.122 1)" font-size="11.6" fill="#000" stroke="#000" stroke-width="0.08">)</text>
<text transform="translate(378.42 309.5) scale(1.280 1)" font-size="11.6" fill="#000" stroke="#000" stroke-width="0.08">[</text>
<text transform="translate(383.49 309.5) scale(0.871 1)" font-size="11" fill="#000" stroke="#000" stroke-width="0.08">H</text>
<text transform="translate(390.71 309.5) scale(1.054 1)" font-size="11" fill="#000" stroke="#000" stroke-width="0.08">z</text>
<text transform="translate(397.17 309.5) scale(1.106 1)" font-size="11.6" fill="#000" stroke="#000" stroke-width="0.08">]</text>
<text transform="translate(446.19 309.5) scale(1.055 1)" font-size="11" fill="#000" stroke="#000" stroke-width="0.08">log</text>
<text transform="translate(461.41 313.6) scale(0.986 1)" font-size="8.8" fill="#000" stroke="#000" stroke-width="0.16">10</text>
<text transform="translate(471.3 309.5) scale(0.797 1)" font-size="11.6" fill="#000" stroke="#000" stroke-width="0.08">(</text>
<text transform="translate(475.52 309.5) scale(0.847 1)" font-size="11" font-style="italic" fill="#000" stroke="#000" stroke-width="0.08">ν</text>
<text transform="translate(481.48 313.5) scale(1.078 1)" font-size="8.3" fill="#000" stroke="#000" stroke-width="0.16">rest</text>
<text transform="translate(497.7 309.5) scale(1.122 1)" font-size="11.6" fill="#000" stroke="#000" stroke-width="0.08">)</text>
<text transform="translate(506.82 309.5) scale(1.280 1)" font-size="11.6" fill="#000" stroke="#000" stroke-width="0.08">[</text>
<text transform="translate(511.89 309.5) scale(0.871 1)" font-size="11" fill="#000" stroke="#000" stroke-width="0.08">H</text>
<text transform="translate(519.11 309.5) scale(1.054 1)" font-size="11" fill="#000" stroke="#000" stroke-width="0.08">z</text>
<text transform="translate(525.57 309.5) scale(1.106 1)" font-size="11.6" fill="#000" stroke="#000" stroke-width="0.08">]</text>
</svg>
</body></html>
